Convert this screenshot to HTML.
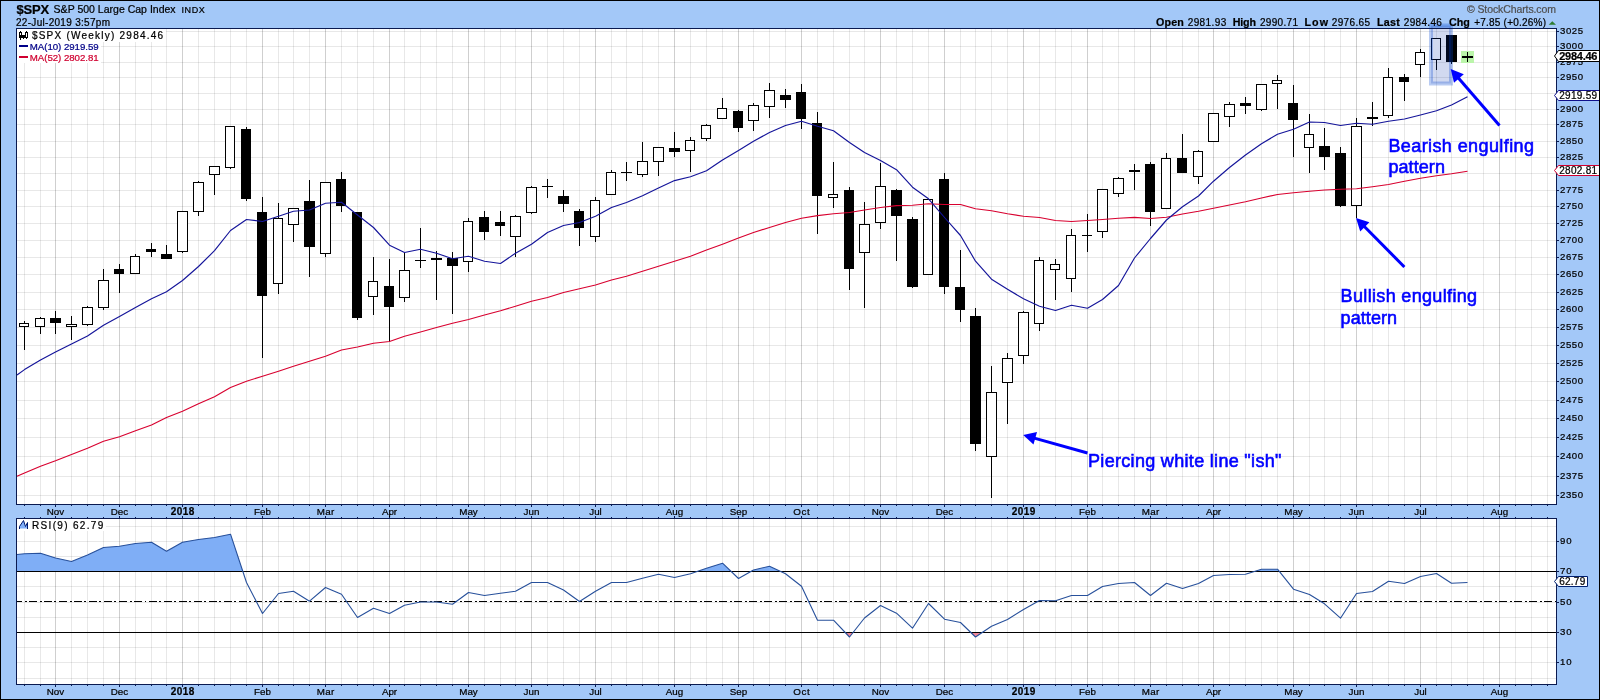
<!DOCTYPE html>
<html><head><meta charset="utf-8"><title>$SPX</title>
<style>html,body{margin:0;padding:0;background:#A3C8F8;}svg{display:block;will-change:transform;}text{font-family:"Liberation Sans",sans-serif;}</style>
</head><body>
<svg width="1600" height="700" viewBox="0 0 1600 700">
<rect x="0" y="0" width="1600" height="700" fill="#A3C8F8"/>
<rect x="16" y="28" width="1541" height="477" fill="#fff"/>
<g shape-rendering="crispEdges" stroke-width="1">
<rect x="16" y="518" width="1541" height="167" fill="#fff"/>
<line x1="24.5" x2="24.5" y1="29" y2="504" stroke="rgba(0,0,0,0.092)"/>
<line x1="24.5" x2="24.5" y1="519" y2="684" stroke="rgba(0,0,0,0.092)"/>
<line x1="40.5" x2="40.5" y1="29" y2="504" stroke="rgba(0,0,0,0.092)"/>
<line x1="40.5" x2="40.5" y1="519" y2="684" stroke="rgba(0,0,0,0.092)"/>
<line x1="55.5" x2="55.5" y1="29" y2="504" stroke="rgba(0,0,0,0.19)"/>
<line x1="55.5" x2="55.5" y1="519" y2="684" stroke="rgba(0,0,0,0.19)"/>
<line x1="71.5" x2="71.5" y1="29" y2="504" stroke="rgba(0,0,0,0.092)"/>
<line x1="71.5" x2="71.5" y1="519" y2="684" stroke="rgba(0,0,0,0.092)"/>
<line x1="87.5" x2="87.5" y1="29" y2="504" stroke="rgba(0,0,0,0.092)"/>
<line x1="87.5" x2="87.5" y1="519" y2="684" stroke="rgba(0,0,0,0.092)"/>
<line x1="103.5" x2="103.5" y1="29" y2="504" stroke="rgba(0,0,0,0.092)"/>
<line x1="103.5" x2="103.5" y1="519" y2="684" stroke="rgba(0,0,0,0.092)"/>
<line x1="119.5" x2="119.5" y1="29" y2="504" stroke="rgba(0,0,0,0.19)"/>
<line x1="119.5" x2="119.5" y1="519" y2="684" stroke="rgba(0,0,0,0.19)"/>
<line x1="135.5" x2="135.5" y1="29" y2="504" stroke="rgba(0,0,0,0.092)"/>
<line x1="135.5" x2="135.5" y1="519" y2="684" stroke="rgba(0,0,0,0.092)"/>
<line x1="151.5" x2="151.5" y1="29" y2="504" stroke="rgba(0,0,0,0.092)"/>
<line x1="151.5" x2="151.5" y1="519" y2="684" stroke="rgba(0,0,0,0.092)"/>
<line x1="166.5" x2="166.5" y1="29" y2="504" stroke="rgba(0,0,0,0.092)"/>
<line x1="166.5" x2="166.5" y1="519" y2="684" stroke="rgba(0,0,0,0.092)"/>
<line x1="182.5" x2="182.5" y1="29" y2="504" stroke="rgba(0,0,0,0.19)"/>
<line x1="182.5" x2="182.5" y1="519" y2="684" stroke="rgba(0,0,0,0.19)"/>
<line x1="198.5" x2="198.5" y1="29" y2="504" stroke="rgba(0,0,0,0.092)"/>
<line x1="198.5" x2="198.5" y1="519" y2="684" stroke="rgba(0,0,0,0.092)"/>
<line x1="214.5" x2="214.5" y1="29" y2="504" stroke="rgba(0,0,0,0.092)"/>
<line x1="214.5" x2="214.5" y1="519" y2="684" stroke="rgba(0,0,0,0.092)"/>
<line x1="230.5" x2="230.5" y1="29" y2="504" stroke="rgba(0,0,0,0.092)"/>
<line x1="230.5" x2="230.5" y1="519" y2="684" stroke="rgba(0,0,0,0.092)"/>
<line x1="246.5" x2="246.5" y1="29" y2="504" stroke="rgba(0,0,0,0.092)"/>
<line x1="246.5" x2="246.5" y1="519" y2="684" stroke="rgba(0,0,0,0.092)"/>
<line x1="262.5" x2="262.5" y1="29" y2="504" stroke="rgba(0,0,0,0.19)"/>
<line x1="262.5" x2="262.5" y1="519" y2="684" stroke="rgba(0,0,0,0.19)"/>
<line x1="278.5" x2="278.5" y1="29" y2="504" stroke="rgba(0,0,0,0.092)"/>
<line x1="278.5" x2="278.5" y1="519" y2="684" stroke="rgba(0,0,0,0.092)"/>
<line x1="293.5" x2="293.5" y1="29" y2="504" stroke="rgba(0,0,0,0.092)"/>
<line x1="293.5" x2="293.5" y1="519" y2="684" stroke="rgba(0,0,0,0.092)"/>
<line x1="309.5" x2="309.5" y1="29" y2="504" stroke="rgba(0,0,0,0.092)"/>
<line x1="309.5" x2="309.5" y1="519" y2="684" stroke="rgba(0,0,0,0.092)"/>
<line x1="325.5" x2="325.5" y1="29" y2="504" stroke="rgba(0,0,0,0.19)"/>
<line x1="325.5" x2="325.5" y1="519" y2="684" stroke="rgba(0,0,0,0.19)"/>
<line x1="341.5" x2="341.5" y1="29" y2="504" stroke="rgba(0,0,0,0.092)"/>
<line x1="341.5" x2="341.5" y1="519" y2="684" stroke="rgba(0,0,0,0.092)"/>
<line x1="357.5" x2="357.5" y1="29" y2="504" stroke="rgba(0,0,0,0.092)"/>
<line x1="357.5" x2="357.5" y1="519" y2="684" stroke="rgba(0,0,0,0.092)"/>
<line x1="373.5" x2="373.5" y1="29" y2="504" stroke="rgba(0,0,0,0.092)"/>
<line x1="373.5" x2="373.5" y1="519" y2="684" stroke="rgba(0,0,0,0.092)"/>
<line x1="389.5" x2="389.5" y1="29" y2="504" stroke="rgba(0,0,0,0.19)"/>
<line x1="389.5" x2="389.5" y1="519" y2="684" stroke="rgba(0,0,0,0.19)"/>
<line x1="404.5" x2="404.5" y1="29" y2="504" stroke="rgba(0,0,0,0.092)"/>
<line x1="404.5" x2="404.5" y1="519" y2="684" stroke="rgba(0,0,0,0.092)"/>
<line x1="420.5" x2="420.5" y1="29" y2="504" stroke="rgba(0,0,0,0.092)"/>
<line x1="420.5" x2="420.5" y1="519" y2="684" stroke="rgba(0,0,0,0.092)"/>
<line x1="436.5" x2="436.5" y1="29" y2="504" stroke="rgba(0,0,0,0.092)"/>
<line x1="436.5" x2="436.5" y1="519" y2="684" stroke="rgba(0,0,0,0.092)"/>
<line x1="452.5" x2="452.5" y1="29" y2="504" stroke="rgba(0,0,0,0.092)"/>
<line x1="452.5" x2="452.5" y1="519" y2="684" stroke="rgba(0,0,0,0.092)"/>
<line x1="468.5" x2="468.5" y1="29" y2="504" stroke="rgba(0,0,0,0.19)"/>
<line x1="468.5" x2="468.5" y1="519" y2="684" stroke="rgba(0,0,0,0.19)"/>
<line x1="484.5" x2="484.5" y1="29" y2="504" stroke="rgba(0,0,0,0.092)"/>
<line x1="484.5" x2="484.5" y1="519" y2="684" stroke="rgba(0,0,0,0.092)"/>
<line x1="500.5" x2="500.5" y1="29" y2="504" stroke="rgba(0,0,0,0.092)"/>
<line x1="500.5" x2="500.5" y1="519" y2="684" stroke="rgba(0,0,0,0.092)"/>
<line x1="515.5" x2="515.5" y1="29" y2="504" stroke="rgba(0,0,0,0.092)"/>
<line x1="515.5" x2="515.5" y1="519" y2="684" stroke="rgba(0,0,0,0.092)"/>
<line x1="531.5" x2="531.5" y1="29" y2="504" stroke="rgba(0,0,0,0.19)"/>
<line x1="531.5" x2="531.5" y1="519" y2="684" stroke="rgba(0,0,0,0.19)"/>
<line x1="547.5" x2="547.5" y1="29" y2="504" stroke="rgba(0,0,0,0.092)"/>
<line x1="547.5" x2="547.5" y1="519" y2="684" stroke="rgba(0,0,0,0.092)"/>
<line x1="563.5" x2="563.5" y1="29" y2="504" stroke="rgba(0,0,0,0.092)"/>
<line x1="563.5" x2="563.5" y1="519" y2="684" stroke="rgba(0,0,0,0.092)"/>
<line x1="579.5" x2="579.5" y1="29" y2="504" stroke="rgba(0,0,0,0.092)"/>
<line x1="579.5" x2="579.5" y1="519" y2="684" stroke="rgba(0,0,0,0.092)"/>
<line x1="595.5" x2="595.5" y1="29" y2="504" stroke="rgba(0,0,0,0.19)"/>
<line x1="595.5" x2="595.5" y1="519" y2="684" stroke="rgba(0,0,0,0.19)"/>
<line x1="611.5" x2="611.5" y1="29" y2="504" stroke="rgba(0,0,0,0.092)"/>
<line x1="611.5" x2="611.5" y1="519" y2="684" stroke="rgba(0,0,0,0.092)"/>
<line x1="626.5" x2="626.5" y1="29" y2="504" stroke="rgba(0,0,0,0.092)"/>
<line x1="626.5" x2="626.5" y1="519" y2="684" stroke="rgba(0,0,0,0.092)"/>
<line x1="642.5" x2="642.5" y1="29" y2="504" stroke="rgba(0,0,0,0.092)"/>
<line x1="642.5" x2="642.5" y1="519" y2="684" stroke="rgba(0,0,0,0.092)"/>
<line x1="658.5" x2="658.5" y1="29" y2="504" stroke="rgba(0,0,0,0.092)"/>
<line x1="658.5" x2="658.5" y1="519" y2="684" stroke="rgba(0,0,0,0.092)"/>
<line x1="674.5" x2="674.5" y1="29" y2="504" stroke="rgba(0,0,0,0.19)"/>
<line x1="674.5" x2="674.5" y1="519" y2="684" stroke="rgba(0,0,0,0.19)"/>
<line x1="690.5" x2="690.5" y1="29" y2="504" stroke="rgba(0,0,0,0.092)"/>
<line x1="690.5" x2="690.5" y1="519" y2="684" stroke="rgba(0,0,0,0.092)"/>
<line x1="706.5" x2="706.5" y1="29" y2="504" stroke="rgba(0,0,0,0.092)"/>
<line x1="706.5" x2="706.5" y1="519" y2="684" stroke="rgba(0,0,0,0.092)"/>
<line x1="722.5" x2="722.5" y1="29" y2="504" stroke="rgba(0,0,0,0.092)"/>
<line x1="722.5" x2="722.5" y1="519" y2="684" stroke="rgba(0,0,0,0.092)"/>
<line x1="738.5" x2="738.5" y1="29" y2="504" stroke="rgba(0,0,0,0.19)"/>
<line x1="738.5" x2="738.5" y1="519" y2="684" stroke="rgba(0,0,0,0.19)"/>
<line x1="753.5" x2="753.5" y1="29" y2="504" stroke="rgba(0,0,0,0.092)"/>
<line x1="753.5" x2="753.5" y1="519" y2="684" stroke="rgba(0,0,0,0.092)"/>
<line x1="769.5" x2="769.5" y1="29" y2="504" stroke="rgba(0,0,0,0.092)"/>
<line x1="769.5" x2="769.5" y1="519" y2="684" stroke="rgba(0,0,0,0.092)"/>
<line x1="785.5" x2="785.5" y1="29" y2="504" stroke="rgba(0,0,0,0.092)"/>
<line x1="785.5" x2="785.5" y1="519" y2="684" stroke="rgba(0,0,0,0.092)"/>
<line x1="801.5" x2="801.5" y1="29" y2="504" stroke="rgba(0,0,0,0.19)"/>
<line x1="801.5" x2="801.5" y1="519" y2="684" stroke="rgba(0,0,0,0.19)"/>
<line x1="817.5" x2="817.5" y1="29" y2="504" stroke="rgba(0,0,0,0.092)"/>
<line x1="817.5" x2="817.5" y1="519" y2="684" stroke="rgba(0,0,0,0.092)"/>
<line x1="833.5" x2="833.5" y1="29" y2="504" stroke="rgba(0,0,0,0.092)"/>
<line x1="833.5" x2="833.5" y1="519" y2="684" stroke="rgba(0,0,0,0.092)"/>
<line x1="849.5" x2="849.5" y1="29" y2="504" stroke="rgba(0,0,0,0.092)"/>
<line x1="849.5" x2="849.5" y1="519" y2="684" stroke="rgba(0,0,0,0.092)"/>
<line x1="864.5" x2="864.5" y1="29" y2="504" stroke="rgba(0,0,0,0.092)"/>
<line x1="864.5" x2="864.5" y1="519" y2="684" stroke="rgba(0,0,0,0.092)"/>
<line x1="880.5" x2="880.5" y1="29" y2="504" stroke="rgba(0,0,0,0.19)"/>
<line x1="880.5" x2="880.5" y1="519" y2="684" stroke="rgba(0,0,0,0.19)"/>
<line x1="896.5" x2="896.5" y1="29" y2="504" stroke="rgba(0,0,0,0.092)"/>
<line x1="896.5" x2="896.5" y1="519" y2="684" stroke="rgba(0,0,0,0.092)"/>
<line x1="912.5" x2="912.5" y1="29" y2="504" stroke="rgba(0,0,0,0.092)"/>
<line x1="912.5" x2="912.5" y1="519" y2="684" stroke="rgba(0,0,0,0.092)"/>
<line x1="928.5" x2="928.5" y1="29" y2="504" stroke="rgba(0,0,0,0.092)"/>
<line x1="928.5" x2="928.5" y1="519" y2="684" stroke="rgba(0,0,0,0.092)"/>
<line x1="944.5" x2="944.5" y1="29" y2="504" stroke="rgba(0,0,0,0.19)"/>
<line x1="944.5" x2="944.5" y1="519" y2="684" stroke="rgba(0,0,0,0.19)"/>
<line x1="960.5" x2="960.5" y1="29" y2="504" stroke="rgba(0,0,0,0.092)"/>
<line x1="960.5" x2="960.5" y1="519" y2="684" stroke="rgba(0,0,0,0.092)"/>
<line x1="975.5" x2="975.5" y1="29" y2="504" stroke="rgba(0,0,0,0.092)"/>
<line x1="975.5" x2="975.5" y1="519" y2="684" stroke="rgba(0,0,0,0.092)"/>
<line x1="991.5" x2="991.5" y1="29" y2="504" stroke="rgba(0,0,0,0.092)"/>
<line x1="991.5" x2="991.5" y1="519" y2="684" stroke="rgba(0,0,0,0.092)"/>
<line x1="1007.5" x2="1007.5" y1="29" y2="504" stroke="rgba(0,0,0,0.092)"/>
<line x1="1007.5" x2="1007.5" y1="519" y2="684" stroke="rgba(0,0,0,0.092)"/>
<line x1="1023.5" x2="1023.5" y1="29" y2="504" stroke="rgba(0,0,0,0.19)"/>
<line x1="1023.5" x2="1023.5" y1="519" y2="684" stroke="rgba(0,0,0,0.19)"/>
<line x1="1039.5" x2="1039.5" y1="29" y2="504" stroke="rgba(0,0,0,0.092)"/>
<line x1="1039.5" x2="1039.5" y1="519" y2="684" stroke="rgba(0,0,0,0.092)"/>
<line x1="1055.5" x2="1055.5" y1="29" y2="504" stroke="rgba(0,0,0,0.092)"/>
<line x1="1055.5" x2="1055.5" y1="519" y2="684" stroke="rgba(0,0,0,0.092)"/>
<line x1="1071.5" x2="1071.5" y1="29" y2="504" stroke="rgba(0,0,0,0.092)"/>
<line x1="1071.5" x2="1071.5" y1="519" y2="684" stroke="rgba(0,0,0,0.092)"/>
<line x1="1087.5" x2="1087.5" y1="29" y2="504" stroke="rgba(0,0,0,0.19)"/>
<line x1="1087.5" x2="1087.5" y1="519" y2="684" stroke="rgba(0,0,0,0.19)"/>
<line x1="1102.5" x2="1102.5" y1="29" y2="504" stroke="rgba(0,0,0,0.092)"/>
<line x1="1102.5" x2="1102.5" y1="519" y2="684" stroke="rgba(0,0,0,0.092)"/>
<line x1="1118.5" x2="1118.5" y1="29" y2="504" stroke="rgba(0,0,0,0.092)"/>
<line x1="1118.5" x2="1118.5" y1="519" y2="684" stroke="rgba(0,0,0,0.092)"/>
<line x1="1134.5" x2="1134.5" y1="29" y2="504" stroke="rgba(0,0,0,0.092)"/>
<line x1="1134.5" x2="1134.5" y1="519" y2="684" stroke="rgba(0,0,0,0.092)"/>
<line x1="1150.5" x2="1150.5" y1="29" y2="504" stroke="rgba(0,0,0,0.19)"/>
<line x1="1150.5" x2="1150.5" y1="519" y2="684" stroke="rgba(0,0,0,0.19)"/>
<line x1="1166.5" x2="1166.5" y1="29" y2="504" stroke="rgba(0,0,0,0.092)"/>
<line x1="1166.5" x2="1166.5" y1="519" y2="684" stroke="rgba(0,0,0,0.092)"/>
<line x1="1182.5" x2="1182.5" y1="29" y2="504" stroke="rgba(0,0,0,0.092)"/>
<line x1="1182.5" x2="1182.5" y1="519" y2="684" stroke="rgba(0,0,0,0.092)"/>
<line x1="1198.5" x2="1198.5" y1="29" y2="504" stroke="rgba(0,0,0,0.092)"/>
<line x1="1198.5" x2="1198.5" y1="519" y2="684" stroke="rgba(0,0,0,0.092)"/>
<line x1="1213.5" x2="1213.5" y1="29" y2="504" stroke="rgba(0,0,0,0.19)"/>
<line x1="1213.5" x2="1213.5" y1="519" y2="684" stroke="rgba(0,0,0,0.19)"/>
<line x1="1229.5" x2="1229.5" y1="29" y2="504" stroke="rgba(0,0,0,0.092)"/>
<line x1="1229.5" x2="1229.5" y1="519" y2="684" stroke="rgba(0,0,0,0.092)"/>
<line x1="1245.5" x2="1245.5" y1="29" y2="504" stroke="rgba(0,0,0,0.092)"/>
<line x1="1245.5" x2="1245.5" y1="519" y2="684" stroke="rgba(0,0,0,0.092)"/>
<line x1="1261.5" x2="1261.5" y1="29" y2="504" stroke="rgba(0,0,0,0.092)"/>
<line x1="1261.5" x2="1261.5" y1="519" y2="684" stroke="rgba(0,0,0,0.092)"/>
<line x1="1277.5" x2="1277.5" y1="29" y2="504" stroke="rgba(0,0,0,0.092)"/>
<line x1="1277.5" x2="1277.5" y1="519" y2="684" stroke="rgba(0,0,0,0.092)"/>
<line x1="1293.5" x2="1293.5" y1="29" y2="504" stroke="rgba(0,0,0,0.19)"/>
<line x1="1293.5" x2="1293.5" y1="519" y2="684" stroke="rgba(0,0,0,0.19)"/>
<line x1="1309.5" x2="1309.5" y1="29" y2="504" stroke="rgba(0,0,0,0.092)"/>
<line x1="1309.5" x2="1309.5" y1="519" y2="684" stroke="rgba(0,0,0,0.092)"/>
<line x1="1324.5" x2="1324.5" y1="29" y2="504" stroke="rgba(0,0,0,0.092)"/>
<line x1="1324.5" x2="1324.5" y1="519" y2="684" stroke="rgba(0,0,0,0.092)"/>
<line x1="1340.5" x2="1340.5" y1="29" y2="504" stroke="rgba(0,0,0,0.092)"/>
<line x1="1340.5" x2="1340.5" y1="519" y2="684" stroke="rgba(0,0,0,0.092)"/>
<line x1="1356.5" x2="1356.5" y1="29" y2="504" stroke="rgba(0,0,0,0.19)"/>
<line x1="1356.5" x2="1356.5" y1="519" y2="684" stroke="rgba(0,0,0,0.19)"/>
<line x1="1372.5" x2="1372.5" y1="29" y2="504" stroke="rgba(0,0,0,0.092)"/>
<line x1="1372.5" x2="1372.5" y1="519" y2="684" stroke="rgba(0,0,0,0.092)"/>
<line x1="1388.5" x2="1388.5" y1="29" y2="504" stroke="rgba(0,0,0,0.092)"/>
<line x1="1388.5" x2="1388.5" y1="519" y2="684" stroke="rgba(0,0,0,0.092)"/>
<line x1="1404.5" x2="1404.5" y1="29" y2="504" stroke="rgba(0,0,0,0.092)"/>
<line x1="1404.5" x2="1404.5" y1="519" y2="684" stroke="rgba(0,0,0,0.092)"/>
<line x1="1420.5" x2="1420.5" y1="29" y2="504" stroke="rgba(0,0,0,0.19)"/>
<line x1="1420.5" x2="1420.5" y1="519" y2="684" stroke="rgba(0,0,0,0.19)"/>
<line x1="1436.5" x2="1436.5" y1="29" y2="504" stroke="rgba(0,0,0,0.092)"/>
<line x1="1436.5" x2="1436.5" y1="519" y2="684" stroke="rgba(0,0,0,0.092)"/>
<line x1="1451.5" x2="1451.5" y1="29" y2="504" stroke="rgba(0,0,0,0.092)"/>
<line x1="1451.5" x2="1451.5" y1="519" y2="684" stroke="rgba(0,0,0,0.092)"/>
<line x1="1467.5" x2="1467.5" y1="29" y2="504" stroke="rgba(0,0,0,0.092)"/>
<line x1="1467.5" x2="1467.5" y1="519" y2="684" stroke="rgba(0,0,0,0.092)"/>
<line x1="1483.5" x2="1483.5" y1="29" y2="504" stroke="rgba(0,0,0,0.092)"/>
<line x1="1483.5" x2="1483.5" y1="519" y2="684" stroke="rgba(0,0,0,0.092)"/>
<line x1="1499.5" x2="1499.5" y1="29" y2="504" stroke="rgba(0,0,0,0.19)"/>
<line x1="1499.5" x2="1499.5" y1="519" y2="684" stroke="rgba(0,0,0,0.19)"/>
<line x1="1515.5" x2="1515.5" y1="29" y2="504" stroke="rgba(0,0,0,0.092)"/>
<line x1="1515.5" x2="1515.5" y1="519" y2="684" stroke="rgba(0,0,0,0.092)"/>
<line x1="1531.5" x2="1531.5" y1="29" y2="504" stroke="rgba(0,0,0,0.092)"/>
<line x1="1531.5" x2="1531.5" y1="519" y2="684" stroke="rgba(0,0,0,0.092)"/>
<line x1="1547.5" x2="1547.5" y1="29" y2="504" stroke="rgba(0,0,0,0.092)"/>
<line x1="1547.5" x2="1547.5" y1="519" y2="684" stroke="rgba(0,0,0,0.092)"/>
<line x1="17" x2="1556" y1="495.5" y2="495.5" stroke="rgba(0,0,0,0.092)"/>
<line x1="17" x2="1556" y1="476.5" y2="476.5" stroke="rgba(0,0,0,0.092)"/>
<line x1="17" x2="1556" y1="456.5" y2="456.5" stroke="rgba(0,0,0,0.092)"/>
<line x1="17" x2="1556" y1="437.5" y2="437.5" stroke="rgba(0,0,0,0.092)"/>
<line x1="17" x2="1556" y1="418.5" y2="418.5" stroke="rgba(0,0,0,0.092)"/>
<line x1="17" x2="1556" y1="400.5" y2="400.5" stroke="rgba(0,0,0,0.092)"/>
<line x1="17" x2="1556" y1="381.5" y2="381.5" stroke="rgba(0,0,0,0.092)"/>
<line x1="17" x2="1556" y1="363.5" y2="363.5" stroke="rgba(0,0,0,0.092)"/>
<line x1="17" x2="1556" y1="345.5" y2="345.5" stroke="rgba(0,0,0,0.092)"/>
<line x1="17" x2="1556" y1="327.5" y2="327.5" stroke="rgba(0,0,0,0.092)"/>
<line x1="17" x2="1556" y1="309.5" y2="309.5" stroke="rgba(0,0,0,0.092)"/>
<line x1="17" x2="1556" y1="292.5" y2="292.5" stroke="rgba(0,0,0,0.092)"/>
<line x1="17" x2="1556" y1="274.5" y2="274.5" stroke="rgba(0,0,0,0.092)"/>
<line x1="17" x2="1556" y1="257.5" y2="257.5" stroke="rgba(0,0,0,0.092)"/>
<line x1="17" x2="1556" y1="240.5" y2="240.5" stroke="rgba(0,0,0,0.092)"/>
<line x1="17" x2="1556" y1="223.5" y2="223.5" stroke="rgba(0,0,0,0.092)"/>
<line x1="17" x2="1556" y1="206.5" y2="206.5" stroke="rgba(0,0,0,0.092)"/>
<line x1="17" x2="1556" y1="190.5" y2="190.5" stroke="rgba(0,0,0,0.092)"/>
<line x1="17" x2="1556" y1="173.5" y2="173.5" stroke="rgba(0,0,0,0.092)"/>
<line x1="17" x2="1556" y1="157.5" y2="157.5" stroke="rgba(0,0,0,0.092)"/>
<line x1="17" x2="1556" y1="141.5" y2="141.5" stroke="rgba(0,0,0,0.092)"/>
<line x1="17" x2="1556" y1="124.5" y2="124.5" stroke="rgba(0,0,0,0.092)"/>
<line x1="17" x2="1556" y1="109.5" y2="109.5" stroke="rgba(0,0,0,0.092)"/>
<line x1="17" x2="1556" y1="93.5" y2="93.5" stroke="rgba(0,0,0,0.092)"/>
<line x1="17" x2="1556" y1="77.5" y2="77.5" stroke="rgba(0,0,0,0.092)"/>
<line x1="17" x2="1556" y1="62.5" y2="62.5" stroke="rgba(0,0,0,0.092)"/>
<line x1="17" x2="1556" y1="46.5" y2="46.5" stroke="rgba(0,0,0,0.092)"/>
<line x1="17" x2="1556" y1="31.5" y2="31.5" stroke="rgba(0,0,0,0.092)"/>
<line x1="17" x2="1556" y1="678.5" y2="678.5" stroke="rgba(0,0,0,0.092)"/>
<line x1="17" x2="1556" y1="662.5" y2="662.5" stroke="rgba(0,0,0,0.092)"/>
<line x1="17" x2="1556" y1="647.5" y2="647.5" stroke="rgba(0,0,0,0.092)"/>
<line x1="17" x2="1556" y1="617.5" y2="617.5" stroke="rgba(0,0,0,0.092)"/>
<line x1="17" x2="1556" y1="602.5" y2="602.5" stroke="rgba(0,0,0,0.092)"/>
<line x1="17" x2="1556" y1="586.5" y2="586.5" stroke="rgba(0,0,0,0.092)"/>
<line x1="17" x2="1556" y1="556.5" y2="556.5" stroke="rgba(0,0,0,0.092)"/>
<line x1="17" x2="1556" y1="541.5" y2="541.5" stroke="rgba(0,0,0,0.092)"/>
<line x1="17" x2="1556" y1="526.5" y2="526.5" stroke="rgba(0,0,0,0.092)"/>
</g>
<rect x="17" y="29" width="149" height="13" fill="#fff"/>
<rect x="17" y="42" width="84" height="21" fill="#fff"/>
<rect x="17" y="519" width="89" height="12" fill="#fff"/>
<g shape-rendering="crispEdges">
<rect x="24" y="321" width="1" height="29" fill="#000"/>
<rect x="19" y="323" width="10" height="4" fill="#000"/>
<rect x="20" y="324" width="8" height="2" fill="#fff"/>
<rect x="40" y="317" width="1" height="17" fill="#000"/>
<rect x="35" y="318" width="10" height="9" fill="#000"/>
<rect x="36" y="319" width="8" height="7" fill="#fff"/>
<rect x="55" y="311" width="1" height="23" fill="#000"/>
<rect x="50" y="318" width="11" height="5" fill="#000"/>
<rect x="71" y="316" width="1" height="24" fill="#000"/>
<rect x="66" y="324" width="11" height="3" fill="#000"/>
<rect x="67" y="325" width="9" height="1" fill="#fff"/>
<rect x="87" y="306" width="1" height="20" fill="#000"/>
<rect x="82" y="307" width="11" height="18" fill="#000"/>
<rect x="83" y="308" width="9" height="16" fill="#fff"/>
<rect x="103" y="269" width="1" height="41" fill="#000"/>
<rect x="98" y="280" width="11" height="28" fill="#000"/>
<rect x="99" y="281" width="9" height="26" fill="#fff"/>
<rect x="119" y="264" width="1" height="29" fill="#000"/>
<rect x="114" y="269" width="10" height="5" fill="#000"/>
<rect x="135" y="254" width="1" height="19" fill="#000"/>
<rect x="130" y="256" width="10" height="18" fill="#000"/>
<rect x="131" y="257" width="8" height="16" fill="#fff"/>
<rect x="151" y="243" width="1" height="14" fill="#000"/>
<rect x="146" y="249" width="10" height="3" fill="#000"/>
<rect x="166" y="245" width="1" height="14" fill="#000"/>
<rect x="161" y="254" width="11" height="5" fill="#000"/>
<rect x="182" y="211" width="1" height="42" fill="#000"/>
<rect x="177" y="211" width="11" height="41" fill="#000"/>
<rect x="178" y="212" width="9" height="39" fill="#fff"/>
<rect x="198" y="181" width="1" height="35" fill="#000"/>
<rect x="193" y="182" width="11" height="30" fill="#000"/>
<rect x="194" y="183" width="9" height="28" fill="#fff"/>
<rect x="214" y="166" width="1" height="29" fill="#000"/>
<rect x="209" y="166" width="11" height="9" fill="#000"/>
<rect x="210" y="167" width="9" height="7" fill="#fff"/>
<rect x="230" y="126" width="1" height="43" fill="#000"/>
<rect x="225" y="126" width="10" height="42" fill="#000"/>
<rect x="226" y="127" width="8" height="40" fill="#fff"/>
<rect x="246" y="127" width="1" height="74" fill="#000"/>
<rect x="241" y="129" width="10" height="70" fill="#000"/>
<rect x="262" y="197" width="1" height="161" fill="#000"/>
<rect x="257" y="212" width="10" height="84" fill="#000"/>
<rect x="278" y="203" width="1" height="91" fill="#000"/>
<rect x="273" y="218" width="10" height="66" fill="#000"/>
<rect x="274" y="219" width="8" height="64" fill="#fff"/>
<rect x="293" y="208" width="1" height="34" fill="#000"/>
<rect x="288" y="208" width="11" height="17" fill="#000"/>
<rect x="289" y="209" width="9" height="15" fill="#fff"/>
<rect x="309" y="180" width="1" height="97" fill="#000"/>
<rect x="304" y="201" width="11" height="46" fill="#000"/>
<rect x="325" y="182" width="1" height="75" fill="#000"/>
<rect x="320" y="182" width="11" height="72" fill="#000"/>
<rect x="321" y="183" width="9" height="70" fill="#fff"/>
<rect x="341" y="172" width="1" height="40" fill="#000"/>
<rect x="336" y="179" width="10" height="27" fill="#000"/>
<rect x="357" y="212" width="1" height="108" fill="#000"/>
<rect x="352" y="212" width="10" height="106" fill="#000"/>
<rect x="373" y="257" width="1" height="58" fill="#000"/>
<rect x="368" y="281" width="10" height="16" fill="#000"/>
<rect x="369" y="282" width="8" height="14" fill="#fff"/>
<rect x="389" y="259" width="1" height="83" fill="#000"/>
<rect x="384" y="286" width="10" height="21" fill="#000"/>
<rect x="404" y="252" width="1" height="50" fill="#000"/>
<rect x="399" y="270" width="11" height="28" fill="#000"/>
<rect x="400" y="271" width="9" height="26" fill="#fff"/>
<rect x="420" y="228" width="1" height="40" fill="#000"/>
<rect x="415" y="260" width="11" height="1" fill="#000"/>
<rect x="436" y="251" width="1" height="49" fill="#000"/>
<rect x="431" y="258" width="11" height="2" fill="#000"/>
<rect x="452" y="252" width="1" height="62" fill="#000"/>
<rect x="447" y="258" width="11" height="8" fill="#000"/>
<rect x="468" y="218" width="1" height="54" fill="#000"/>
<rect x="463" y="221" width="10" height="41" fill="#000"/>
<rect x="464" y="222" width="8" height="39" fill="#fff"/>
<rect x="484" y="211" width="1" height="29" fill="#000"/>
<rect x="479" y="217" width="10" height="15" fill="#000"/>
<rect x="500" y="211" width="1" height="25" fill="#000"/>
<rect x="495" y="222" width="10" height="4" fill="#000"/>
<rect x="515" y="215" width="1" height="42" fill="#000"/>
<rect x="510" y="216" width="11" height="21" fill="#000"/>
<rect x="511" y="217" width="9" height="19" fill="#fff"/>
<rect x="531" y="186" width="1" height="28" fill="#000"/>
<rect x="526" y="187" width="11" height="26" fill="#000"/>
<rect x="527" y="188" width="9" height="24" fill="#fff"/>
<rect x="547" y="179" width="1" height="19" fill="#000"/>
<rect x="542" y="186" width="11" height="1" fill="#000"/>
<rect x="563" y="190" width="1" height="22" fill="#000"/>
<rect x="558" y="196" width="11" height="8" fill="#000"/>
<rect x="579" y="209" width="1" height="37" fill="#000"/>
<rect x="574" y="211" width="10" height="17" fill="#000"/>
<rect x="595" y="197" width="1" height="45" fill="#000"/>
<rect x="590" y="200" width="10" height="37" fill="#000"/>
<rect x="591" y="201" width="8" height="35" fill="#fff"/>
<rect x="611" y="170" width="1" height="24" fill="#000"/>
<rect x="606" y="172" width="10" height="23" fill="#000"/>
<rect x="607" y="173" width="8" height="21" fill="#fff"/>
<rect x="626" y="162" width="1" height="19" fill="#000"/>
<rect x="621" y="172" width="11" height="1" fill="#000"/>
<rect x="642" y="142" width="1" height="35" fill="#000"/>
<rect x="637" y="161" width="11" height="14" fill="#000"/>
<rect x="638" y="162" width="9" height="12" fill="#fff"/>
<rect x="658" y="148" width="1" height="28" fill="#000"/>
<rect x="653" y="147" width="11" height="15" fill="#000"/>
<rect x="654" y="148" width="9" height="13" fill="#fff"/>
<rect x="674" y="132" width="1" height="25" fill="#000"/>
<rect x="669" y="148" width="11" height="4" fill="#000"/>
<rect x="690" y="137" width="1" height="35" fill="#000"/>
<rect x="685" y="140" width="10" height="11" fill="#000"/>
<rect x="686" y="141" width="8" height="9" fill="#fff"/>
<rect x="706" y="124" width="1" height="17" fill="#000"/>
<rect x="701" y="125" width="10" height="14" fill="#000"/>
<rect x="702" y="126" width="8" height="12" fill="#fff"/>
<rect x="722" y="98" width="1" height="20" fill="#000"/>
<rect x="717" y="108" width="10" height="11" fill="#000"/>
<rect x="718" y="109" width="8" height="9" fill="#fff"/>
<rect x="738" y="110" width="1" height="22" fill="#000"/>
<rect x="733" y="111" width="10" height="17" fill="#000"/>
<rect x="753" y="103" width="1" height="28" fill="#000"/>
<rect x="748" y="105" width="11" height="16" fill="#000"/>
<rect x="749" y="106" width="9" height="14" fill="#fff"/>
<rect x="769" y="83" width="1" height="35" fill="#000"/>
<rect x="764" y="90" width="11" height="17" fill="#000"/>
<rect x="765" y="91" width="9" height="15" fill="#fff"/>
<rect x="785" y="89" width="1" height="19" fill="#000"/>
<rect x="780" y="95" width="11" height="5" fill="#000"/>
<rect x="801" y="84" width="1" height="45" fill="#000"/>
<rect x="796" y="92" width="10" height="27" fill="#000"/>
<rect x="817" y="112" width="1" height="122" fill="#000"/>
<rect x="812" y="123" width="10" height="73" fill="#000"/>
<rect x="833" y="162" width="1" height="46" fill="#000"/>
<rect x="828" y="194" width="10" height="4" fill="#000"/>
<rect x="829" y="195" width="8" height="2" fill="#fff"/>
<rect x="849" y="187" width="1" height="103" fill="#000"/>
<rect x="844" y="190" width="10" height="79" fill="#000"/>
<rect x="864" y="202" width="1" height="106" fill="#000"/>
<rect x="859" y="224" width="11" height="29" fill="#000"/>
<rect x="860" y="225" width="9" height="27" fill="#fff"/>
<rect x="880" y="163" width="1" height="66" fill="#000"/>
<rect x="875" y="186" width="11" height="37" fill="#000"/>
<rect x="876" y="187" width="9" height="35" fill="#fff"/>
<rect x="896" y="189" width="1" height="72" fill="#000"/>
<rect x="891" y="190" width="11" height="26" fill="#000"/>
<rect x="912" y="217" width="1" height="71" fill="#000"/>
<rect x="907" y="219" width="11" height="68" fill="#000"/>
<rect x="928" y="200" width="1" height="74" fill="#000"/>
<rect x="923" y="199" width="10" height="76" fill="#000"/>
<rect x="924" y="200" width="8" height="74" fill="#fff"/>
<rect x="944" y="173" width="1" height="121" fill="#000"/>
<rect x="939" y="179" width="10" height="108" fill="#000"/>
<rect x="960" y="250" width="1" height="72" fill="#000"/>
<rect x="955" y="287" width="10" height="23" fill="#000"/>
<rect x="975" y="308" width="1" height="143" fill="#000"/>
<rect x="970" y="316" width="11" height="128" fill="#000"/>
<rect x="991" y="366" width="1" height="132" fill="#000"/>
<rect x="986" y="392" width="11" height="65" fill="#000"/>
<rect x="987" y="393" width="9" height="63" fill="#fff"/>
<rect x="1007" y="353" width="1" height="71" fill="#000"/>
<rect x="1002" y="358" width="11" height="25" fill="#000"/>
<rect x="1003" y="359" width="9" height="23" fill="#fff"/>
<rect x="1023" y="311" width="1" height="53" fill="#000"/>
<rect x="1018" y="312" width="11" height="44" fill="#000"/>
<rect x="1019" y="313" width="9" height="42" fill="#fff"/>
<rect x="1039" y="257" width="1" height="74" fill="#000"/>
<rect x="1034" y="260" width="10" height="64" fill="#000"/>
<rect x="1035" y="261" width="8" height="62" fill="#fff"/>
<rect x="1055" y="259" width="1" height="41" fill="#000"/>
<rect x="1050" y="264" width="10" height="6" fill="#000"/>
<rect x="1051" y="265" width="8" height="4" fill="#fff"/>
<rect x="1071" y="229" width="1" height="63" fill="#000"/>
<rect x="1066" y="235" width="10" height="44" fill="#000"/>
<rect x="1067" y="236" width="8" height="42" fill="#fff"/>
<rect x="1087" y="214" width="1" height="38" fill="#000"/>
<rect x="1082" y="235" width="10" height="1" fill="#000"/>
<rect x="1102" y="189" width="1" height="49" fill="#000"/>
<rect x="1097" y="189" width="11" height="43" fill="#000"/>
<rect x="1098" y="190" width="9" height="41" fill="#fff"/>
<rect x="1118" y="177" width="1" height="20" fill="#000"/>
<rect x="1113" y="178" width="11" height="16" fill="#000"/>
<rect x="1114" y="179" width="9" height="14" fill="#fff"/>
<rect x="1134" y="164" width="1" height="26" fill="#000"/>
<rect x="1129" y="170" width="11" height="2" fill="#000"/>
<rect x="1150" y="162" width="1" height="64" fill="#000"/>
<rect x="1145" y="164" width="10" height="48" fill="#000"/>
<rect x="1166" y="153" width="1" height="55" fill="#000"/>
<rect x="1161" y="158" width="10" height="51" fill="#000"/>
<rect x="1162" y="159" width="8" height="49" fill="#fff"/>
<rect x="1182" y="134" width="1" height="39" fill="#000"/>
<rect x="1177" y="158" width="10" height="15" fill="#000"/>
<rect x="1198" y="150" width="1" height="34" fill="#000"/>
<rect x="1193" y="151" width="10" height="26" fill="#000"/>
<rect x="1194" y="152" width="8" height="24" fill="#fff"/>
<rect x="1213" y="113" width="1" height="28" fill="#000"/>
<rect x="1208" y="113" width="11" height="29" fill="#000"/>
<rect x="1209" y="114" width="9" height="27" fill="#fff"/>
<rect x="1229" y="102" width="1" height="25" fill="#000"/>
<rect x="1224" y="104" width="11" height="13" fill="#000"/>
<rect x="1225" y="105" width="9" height="11" fill="#fff"/>
<rect x="1245" y="97" width="1" height="17" fill="#000"/>
<rect x="1240" y="103" width="11" height="3" fill="#000"/>
<rect x="1261" y="84" width="1" height="27" fill="#000"/>
<rect x="1256" y="84" width="11" height="26" fill="#000"/>
<rect x="1257" y="85" width="9" height="24" fill="#fff"/>
<rect x="1277" y="75" width="1" height="34" fill="#000"/>
<rect x="1272" y="80" width="10" height="4" fill="#000"/>
<rect x="1273" y="81" width="8" height="2" fill="#fff"/>
<rect x="1293" y="85" width="1" height="72" fill="#000"/>
<rect x="1288" y="103" width="10" height="17" fill="#000"/>
<rect x="1309" y="114" width="1" height="59" fill="#000"/>
<rect x="1304" y="134" width="10" height="14" fill="#000"/>
<rect x="1305" y="135" width="8" height="12" fill="#fff"/>
<rect x="1324" y="128" width="1" height="42" fill="#000"/>
<rect x="1319" y="146" width="11" height="11" fill="#000"/>
<rect x="1340" y="147" width="1" height="60" fill="#000"/>
<rect x="1335" y="153" width="11" height="53" fill="#000"/>
<rect x="1356" y="118" width="1" height="100" fill="#000"/>
<rect x="1351" y="126" width="11" height="80" fill="#000"/>
<rect x="1352" y="127" width="9" height="78" fill="#fff"/>
<rect x="1372" y="102" width="1" height="24" fill="#000"/>
<rect x="1367" y="117" width="11" height="2" fill="#000"/>
<rect x="1388" y="68" width="1" height="50" fill="#000"/>
<rect x="1383" y="77" width="10" height="39" fill="#000"/>
<rect x="1384" y="78" width="8" height="37" fill="#fff"/>
<rect x="1404" y="74" width="1" height="27" fill="#000"/>
<rect x="1399" y="77" width="10" height="5" fill="#000"/>
<rect x="1420" y="49" width="1" height="28" fill="#000"/>
<rect x="1415" y="52" width="10" height="13" fill="#000"/>
<rect x="1416" y="53" width="8" height="11" fill="#fff"/>
<rect x="1436" y="38" width="1" height="32" fill="#000"/>
<rect x="1431" y="38" width="10" height="22" fill="#000"/>
<rect x="1432" y="39" width="8" height="20" fill="#fff"/>
<rect x="1451" y="35" width="1" height="29" fill="#000"/>
<rect x="1446" y="35" width="11" height="27" fill="#000"/>
<rect x="1461" y="51" width="13" height="12" fill="#BBF5AA"/>
<rect x="1467" y="52" width="1" height="10" fill="#000"/>
<rect x="1462" y="56" width="11" height="2" fill="#000"/>
</g>
<polyline fill="none" stroke="#D8002F" stroke-width="1.15" stroke-linejoin="round" points="17.0,476.2 24.5,473.0 40.5,466.2 55.5,460.8 71.5,454.5 87.5,448.2 103.5,441.2 119.5,436.8 135.5,430.8 151.5,425.0 166.5,417.5 182.5,411.2 198.5,403.8 214.5,396.8 230.5,387.5 246.5,381.2 262.5,376.2 278.5,371.2 293.5,366.2 309.5,361.2 325.5,356.2 341.5,350.0 357.5,347.0 373.5,343.2 389.5,341.5 404.5,336.2 420.5,332.0 436.5,327.5 452.5,323.2 468.5,319.5 484.5,315.0 500.5,310.8 515.5,306.2 531.5,301.2 547.5,297.5 563.5,292.5 579.5,288.8 595.5,285.0 611.5,280.0 626.5,276.2 642.5,271.2 658.5,266.2 674.5,261.2 690.5,256.2 706.5,250.0 722.5,244.2 738.5,238.0 753.5,232.5 769.5,227.5 785.5,222.5 801.5,218.2 817.5,215.6 833.5,213.8 849.5,212.5 864.5,210.0 880.5,207.5 896.5,205.6 912.5,205.2 928.5,203.8 944.5,204.5 960.5,204.5 975.5,208.8 991.5,210.8 1007.5,213.8 1023.5,216.2 1039.5,217.5 1055.5,220.5 1071.5,221.5 1087.5,220.5 1102.5,219.5 1118.5,218.2 1134.5,217.4 1150.5,218.5 1166.5,217.2 1182.5,214.0 1198.5,211.2 1213.5,208.2 1229.5,205.0 1245.5,201.8 1261.5,198.0 1277.5,194.5 1293.5,192.7 1309.5,191.2 1324.5,190.0 1340.5,189.2 1356.5,188.8 1372.5,186.8 1388.5,184.5 1404.5,181.2 1420.5,178.2 1436.5,175.8 1451.5,173.8 1467.5,171.2" />
<polyline fill="none" stroke="#14149A" stroke-width="1.15" stroke-linejoin="round" points="17.0,375.0 24.5,369.6 40.5,360.0 55.5,352.0 71.5,344.0 87.5,336.0 103.5,325.3 119.5,316.4 135.5,307.5 151.5,298.7 166.5,291.7 182.5,280.5 198.5,266.5 214.5,250.7 230.5,230.5 246.5,219.5 262.5,221.5 278.5,216.2 293.5,211.2 309.5,210.0 325.5,203.2 341.5,202.2 357.5,215.0 373.5,227.5 389.5,245.2 404.5,252.5 420.5,249.2 436.5,253.2 452.5,258.8 468.5,256.2 484.5,261.2 500.5,263.5 515.5,253.2 531.5,244.2 547.5,232.5 563.5,225.5 579.5,222.5 595.5,216.2 611.5,207.5 626.5,202.5 642.5,195.8 658.5,188.0 674.5,180.6 690.5,176.8 706.5,170.8 722.5,160.0 738.5,150.5 753.5,141.2 769.5,132.5 785.5,125.5 801.5,121.2 817.5,126.2 833.5,130.8 849.5,142.5 864.5,152.5 880.5,160.5 896.5,169.7 912.5,187.2 928.5,198.8 944.5,217.5 960.5,235.5 975.5,261.2 991.5,279.2 1007.5,289.2 1023.5,298.8 1039.5,306.2 1055.5,310.5 1071.5,305.2 1087.5,308.2 1102.5,299.5 1118.5,285.5 1134.5,258.0 1150.5,238.5 1166.5,220.0 1182.5,206.8 1198.5,196.0 1213.5,181.2 1229.5,167.5 1245.5,155.0 1261.5,143.8 1277.5,134.2 1293.5,129.2 1309.5,122.0 1324.5,122.5 1340.5,125.5 1356.5,123.2 1372.5,124.2 1388.5,121.2 1404.5,119.0 1420.5,115.0 1436.5,110.8 1451.5,105.0 1467.5,96.8" />
<rect x="1431" y="25.5" width="20" height="58" fill="rgba(0,43,174,0.18)" stroke="rgba(0,70,210,0.28)" stroke-width="4"/>
<line x1="1499.5" y1="125.5" x2="1458.2" y2="77.7" stroke="#0000FF" stroke-width="3"/><polygon points="1450.7,69.0 1463.8,74.2 1454.0,82.7" fill="#0000FF"/>
<line x1="1404.4" y1="267.0" x2="1364.1" y2="226.2" stroke="#0000FF" stroke-width="3"/><polygon points="1356.0,218.0 1369.4,222.3 1360.2,231.5" fill="#0000FF"/>
<line x1="1087.5" y1="453.0" x2="1034.3" y2="438.1" stroke="#0000FF" stroke-width="3"/><polygon points="1023.2,435.0 1037.0,432.1 1033.5,444.6" fill="#0000FF"/>
<text x="1388.40" y="151.60" font-size="18" font-weight="normal" fill="#0000FF" textLength="145.6" lengthAdjust="spacing" stroke="#0000FF" stroke-width="0.6">Bearish engulfing</text>
<text x="1388.40" y="172.90" font-size="18" font-weight="normal" fill="#0000FF" textLength="56.5" lengthAdjust="spacing" stroke="#0000FF" stroke-width="0.6">pattern</text>
<text x="1340.60" y="302.10" font-size="18" font-weight="normal" fill="#0000FF" textLength="136.5" lengthAdjust="spacing" stroke="#0000FF" stroke-width="0.6">Bullish engulfing</text>
<text x="1340.60" y="323.50" font-size="18" font-weight="normal" fill="#0000FF" textLength="56.5" lengthAdjust="spacing" stroke="#0000FF" stroke-width="0.6">pattern</text>
<text x="1088.00" y="467.10" font-size="18" font-weight="normal" fill="#0000FF" textLength="193.4" lengthAdjust="spacing" stroke="#0000FF" stroke-width="0.6">Piercing white line "ish"</text>
<defs><clipPath id="c70"><rect x="17" y="519" width="1539" height="52.5"/></clipPath><clipPath id="c30"><rect x="17" y="632.5" width="1539" height="60"/></clipPath></defs>
<polygon points="17.0,554.5 24.5,553.8 40.5,553.2 55.5,558.0 71.5,561.5 87.5,555.0 103.5,547.5 119.5,546.2 135.5,543.5 151.5,542.2 166.5,551.2 182.5,542.2 198.5,539.5 214.5,537.5 230.5,534.2 246.5,582.5 262.5,613.5 278.5,593.5 293.5,591.2 309.5,601.2 325.5,587.5 341.5,594.2 357.5,617.5 373.5,608.2 389.5,613.5 404.5,605.2 420.5,602.0 436.5,602.0 452.5,604.2 468.5,592.5 484.5,595.5 500.5,593.2 515.5,591.2 531.5,582.5 547.5,582.5 563.5,590.0 579.5,601.5 595.5,591.2 611.5,582.5 626.5,582.5 642.5,578.2 658.5,574.2 674.5,577.5 690.5,573.8 706.5,568.2 722.5,563.2 738.5,578.5 753.5,570.0 769.5,566.2 785.5,573.8 801.5,586.2 817.5,620.2 833.5,620.2 849.5,637.0 864.5,618.0 880.5,605.5 896.5,613.2 912.5,628.2 928.5,603.5 944.5,619.2 960.5,622.5 975.5,637.0 991.5,626.2 1007.5,619.5 1023.5,609.5 1039.5,600.5 1055.5,600.8 1071.5,595.5 1087.5,595.5 1102.5,586.5 1118.5,583.5 1134.5,582.5 1150.5,595.5 1166.5,583.2 1182.5,588.5 1198.5,583.5 1213.5,575.5 1229.5,574.5 1245.5,574.2 1261.5,569.2 1277.5,569.2 1293.5,589.2 1309.5,594.5 1324.5,603.8 1340.5,618.2 1356.5,593.5 1372.5,591.5 1388.5,581.2 1404.5,583.5 1420.5,576.5 1436.5,573.5 1451.5,583.2 1467.5,582.5 1467.5,571.5 17,571.5" fill="#7FAEF6" clip-path="url(#c70)"/>
<polygon points="17.0,554.5 24.5,553.8 40.5,553.2 55.5,558.0 71.5,561.5 87.5,555.0 103.5,547.5 119.5,546.2 135.5,543.5 151.5,542.2 166.5,551.2 182.5,542.2 198.5,539.5 214.5,537.5 230.5,534.2 246.5,582.5 262.5,613.5 278.5,593.5 293.5,591.2 309.5,601.2 325.5,587.5 341.5,594.2 357.5,617.5 373.5,608.2 389.5,613.5 404.5,605.2 420.5,602.0 436.5,602.0 452.5,604.2 468.5,592.5 484.5,595.5 500.5,593.2 515.5,591.2 531.5,582.5 547.5,582.5 563.5,590.0 579.5,601.5 595.5,591.2 611.5,582.5 626.5,582.5 642.5,578.2 658.5,574.2 674.5,577.5 690.5,573.8 706.5,568.2 722.5,563.2 738.5,578.5 753.5,570.0 769.5,566.2 785.5,573.8 801.5,586.2 817.5,620.2 833.5,620.2 849.5,637.0 864.5,618.0 880.5,605.5 896.5,613.2 912.5,628.2 928.5,603.5 944.5,619.2 960.5,622.5 975.5,637.0 991.5,626.2 1007.5,619.5 1023.5,609.5 1039.5,600.5 1055.5,600.8 1071.5,595.5 1087.5,595.5 1102.5,586.5 1118.5,583.5 1134.5,582.5 1150.5,595.5 1166.5,583.2 1182.5,588.5 1198.5,583.5 1213.5,575.5 1229.5,574.5 1245.5,574.2 1261.5,569.2 1277.5,569.2 1293.5,589.2 1309.5,594.5 1324.5,603.8 1340.5,618.2 1356.5,593.5 1372.5,591.5 1388.5,581.2 1404.5,583.5 1420.5,576.5 1436.5,573.5 1451.5,583.2 1467.5,582.5 1467.5,632.5 17,632.5" fill="#F28A9A" clip-path="url(#c30)"/>
<g shape-rendering="crispEdges">
<line x1="17" x2="1556" y1="571.5" y2="571.5" stroke="#000" stroke-width="1"/>
<line x1="17" x2="1556" y1="632.5" y2="632.5" stroke="#000" stroke-width="1"/>
<line x1="17" x2="1556" y1="601.5" y2="601.5" stroke="#000" stroke-width="1" stroke-dasharray="8,2.5,2,2.5" stroke-dashoffset="3"/>
</g>
<polyline fill="none" stroke="#27509B" stroke-width="1.1" stroke-linejoin="round" points="17.0,554.5 24.5,553.8 40.5,553.2 55.5,558.0 71.5,561.5 87.5,555.0 103.5,547.5 119.5,546.2 135.5,543.5 151.5,542.2 166.5,551.2 182.5,542.2 198.5,539.5 214.5,537.5 230.5,534.2 246.5,582.5 262.5,613.5 278.5,593.5 293.5,591.2 309.5,601.2 325.5,587.5 341.5,594.2 357.5,617.5 373.5,608.2 389.5,613.5 404.5,605.2 420.5,602.0 436.5,602.0 452.5,604.2 468.5,592.5 484.5,595.5 500.5,593.2 515.5,591.2 531.5,582.5 547.5,582.5 563.5,590.0 579.5,601.5 595.5,591.2 611.5,582.5 626.5,582.5 642.5,578.2 658.5,574.2 674.5,577.5 690.5,573.8 706.5,568.2 722.5,563.2 738.5,578.5 753.5,570.0 769.5,566.2 785.5,573.8 801.5,586.2 817.5,620.2 833.5,620.2 849.5,637.0 864.5,618.0 880.5,605.5 896.5,613.2 912.5,628.2 928.5,603.5 944.5,619.2 960.5,622.5 975.5,637.0 991.5,626.2 1007.5,619.5 1023.5,609.5 1039.5,600.5 1055.5,600.8 1071.5,595.5 1087.5,595.5 1102.5,586.5 1118.5,583.5 1134.5,582.5 1150.5,595.5 1166.5,583.2 1182.5,588.5 1198.5,583.5 1213.5,575.5 1229.5,574.5 1245.5,574.2 1261.5,569.2 1277.5,569.2 1293.5,589.2 1309.5,594.5 1324.5,603.8 1340.5,618.2 1356.5,593.5 1372.5,591.5 1388.5,581.2 1404.5,583.5 1420.5,576.5 1436.5,573.5 1451.5,583.2 1467.5,582.5" />
<g shape-rendering="crispEdges" fill="none" stroke="#0A1A50" stroke-width="1">
<rect x="16.5" y="28.5" width="1540" height="476"/>
<rect x="16.5" y="518.5" width="1540" height="166"/>
<line x1="24.5" x2="24.5" y1="505" y2="506"/>
<line x1="24.5" x2="24.5" y1="517" y2="518"/>
<line x1="24.5" x2="24.5" y1="685" y2="686"/>
<line x1="40.5" x2="40.5" y1="505" y2="506"/>
<line x1="40.5" x2="40.5" y1="517" y2="518"/>
<line x1="40.5" x2="40.5" y1="685" y2="686"/>
<line x1="55.5" x2="55.5" y1="505" y2="507"/>
<line x1="55.5" x2="55.5" y1="516" y2="518"/>
<line x1="55.5" x2="55.5" y1="685" y2="687"/>
<line x1="71.5" x2="71.5" y1="505" y2="506"/>
<line x1="71.5" x2="71.5" y1="517" y2="518"/>
<line x1="71.5" x2="71.5" y1="685" y2="686"/>
<line x1="87.5" x2="87.5" y1="505" y2="506"/>
<line x1="87.5" x2="87.5" y1="517" y2="518"/>
<line x1="87.5" x2="87.5" y1="685" y2="686"/>
<line x1="103.5" x2="103.5" y1="505" y2="506"/>
<line x1="103.5" x2="103.5" y1="517" y2="518"/>
<line x1="103.5" x2="103.5" y1="685" y2="686"/>
<line x1="119.5" x2="119.5" y1="505" y2="507"/>
<line x1="119.5" x2="119.5" y1="516" y2="518"/>
<line x1="119.5" x2="119.5" y1="685" y2="687"/>
<line x1="135.5" x2="135.5" y1="505" y2="506"/>
<line x1="135.5" x2="135.5" y1="517" y2="518"/>
<line x1="135.5" x2="135.5" y1="685" y2="686"/>
<line x1="151.5" x2="151.5" y1="505" y2="506"/>
<line x1="151.5" x2="151.5" y1="517" y2="518"/>
<line x1="151.5" x2="151.5" y1="685" y2="686"/>
<line x1="166.5" x2="166.5" y1="505" y2="506"/>
<line x1="166.5" x2="166.5" y1="517" y2="518"/>
<line x1="166.5" x2="166.5" y1="685" y2="686"/>
<line x1="182.5" x2="182.5" y1="505" y2="507"/>
<line x1="182.5" x2="182.5" y1="516" y2="518"/>
<line x1="182.5" x2="182.5" y1="685" y2="687"/>
<line x1="198.5" x2="198.5" y1="505" y2="506"/>
<line x1="198.5" x2="198.5" y1="517" y2="518"/>
<line x1="198.5" x2="198.5" y1="685" y2="686"/>
<line x1="214.5" x2="214.5" y1="505" y2="506"/>
<line x1="214.5" x2="214.5" y1="517" y2="518"/>
<line x1="214.5" x2="214.5" y1="685" y2="686"/>
<line x1="230.5" x2="230.5" y1="505" y2="506"/>
<line x1="230.5" x2="230.5" y1="517" y2="518"/>
<line x1="230.5" x2="230.5" y1="685" y2="686"/>
<line x1="246.5" x2="246.5" y1="505" y2="506"/>
<line x1="246.5" x2="246.5" y1="517" y2="518"/>
<line x1="246.5" x2="246.5" y1="685" y2="686"/>
<line x1="262.5" x2="262.5" y1="505" y2="507"/>
<line x1="262.5" x2="262.5" y1="516" y2="518"/>
<line x1="262.5" x2="262.5" y1="685" y2="687"/>
<line x1="278.5" x2="278.5" y1="505" y2="506"/>
<line x1="278.5" x2="278.5" y1="517" y2="518"/>
<line x1="278.5" x2="278.5" y1="685" y2="686"/>
<line x1="293.5" x2="293.5" y1="505" y2="506"/>
<line x1="293.5" x2="293.5" y1="517" y2="518"/>
<line x1="293.5" x2="293.5" y1="685" y2="686"/>
<line x1="309.5" x2="309.5" y1="505" y2="506"/>
<line x1="309.5" x2="309.5" y1="517" y2="518"/>
<line x1="309.5" x2="309.5" y1="685" y2="686"/>
<line x1="325.5" x2="325.5" y1="505" y2="507"/>
<line x1="325.5" x2="325.5" y1="516" y2="518"/>
<line x1="325.5" x2="325.5" y1="685" y2="687"/>
<line x1="341.5" x2="341.5" y1="505" y2="506"/>
<line x1="341.5" x2="341.5" y1="517" y2="518"/>
<line x1="341.5" x2="341.5" y1="685" y2="686"/>
<line x1="357.5" x2="357.5" y1="505" y2="506"/>
<line x1="357.5" x2="357.5" y1="517" y2="518"/>
<line x1="357.5" x2="357.5" y1="685" y2="686"/>
<line x1="373.5" x2="373.5" y1="505" y2="506"/>
<line x1="373.5" x2="373.5" y1="517" y2="518"/>
<line x1="373.5" x2="373.5" y1="685" y2="686"/>
<line x1="389.5" x2="389.5" y1="505" y2="507"/>
<line x1="389.5" x2="389.5" y1="516" y2="518"/>
<line x1="389.5" x2="389.5" y1="685" y2="687"/>
<line x1="404.5" x2="404.5" y1="505" y2="506"/>
<line x1="404.5" x2="404.5" y1="517" y2="518"/>
<line x1="404.5" x2="404.5" y1="685" y2="686"/>
<line x1="420.5" x2="420.5" y1="505" y2="506"/>
<line x1="420.5" x2="420.5" y1="517" y2="518"/>
<line x1="420.5" x2="420.5" y1="685" y2="686"/>
<line x1="436.5" x2="436.5" y1="505" y2="506"/>
<line x1="436.5" x2="436.5" y1="517" y2="518"/>
<line x1="436.5" x2="436.5" y1="685" y2="686"/>
<line x1="452.5" x2="452.5" y1="505" y2="506"/>
<line x1="452.5" x2="452.5" y1="517" y2="518"/>
<line x1="452.5" x2="452.5" y1="685" y2="686"/>
<line x1="468.5" x2="468.5" y1="505" y2="507"/>
<line x1="468.5" x2="468.5" y1="516" y2="518"/>
<line x1="468.5" x2="468.5" y1="685" y2="687"/>
<line x1="484.5" x2="484.5" y1="505" y2="506"/>
<line x1="484.5" x2="484.5" y1="517" y2="518"/>
<line x1="484.5" x2="484.5" y1="685" y2="686"/>
<line x1="500.5" x2="500.5" y1="505" y2="506"/>
<line x1="500.5" x2="500.5" y1="517" y2="518"/>
<line x1="500.5" x2="500.5" y1="685" y2="686"/>
<line x1="515.5" x2="515.5" y1="505" y2="506"/>
<line x1="515.5" x2="515.5" y1="517" y2="518"/>
<line x1="515.5" x2="515.5" y1="685" y2="686"/>
<line x1="531.5" x2="531.5" y1="505" y2="507"/>
<line x1="531.5" x2="531.5" y1="516" y2="518"/>
<line x1="531.5" x2="531.5" y1="685" y2="687"/>
<line x1="547.5" x2="547.5" y1="505" y2="506"/>
<line x1="547.5" x2="547.5" y1="517" y2="518"/>
<line x1="547.5" x2="547.5" y1="685" y2="686"/>
<line x1="563.5" x2="563.5" y1="505" y2="506"/>
<line x1="563.5" x2="563.5" y1="517" y2="518"/>
<line x1="563.5" x2="563.5" y1="685" y2="686"/>
<line x1="579.5" x2="579.5" y1="505" y2="506"/>
<line x1="579.5" x2="579.5" y1="517" y2="518"/>
<line x1="579.5" x2="579.5" y1="685" y2="686"/>
<line x1="595.5" x2="595.5" y1="505" y2="507"/>
<line x1="595.5" x2="595.5" y1="516" y2="518"/>
<line x1="595.5" x2="595.5" y1="685" y2="687"/>
<line x1="611.5" x2="611.5" y1="505" y2="506"/>
<line x1="611.5" x2="611.5" y1="517" y2="518"/>
<line x1="611.5" x2="611.5" y1="685" y2="686"/>
<line x1="626.5" x2="626.5" y1="505" y2="506"/>
<line x1="626.5" x2="626.5" y1="517" y2="518"/>
<line x1="626.5" x2="626.5" y1="685" y2="686"/>
<line x1="642.5" x2="642.5" y1="505" y2="506"/>
<line x1="642.5" x2="642.5" y1="517" y2="518"/>
<line x1="642.5" x2="642.5" y1="685" y2="686"/>
<line x1="658.5" x2="658.5" y1="505" y2="506"/>
<line x1="658.5" x2="658.5" y1="517" y2="518"/>
<line x1="658.5" x2="658.5" y1="685" y2="686"/>
<line x1="674.5" x2="674.5" y1="505" y2="507"/>
<line x1="674.5" x2="674.5" y1="516" y2="518"/>
<line x1="674.5" x2="674.5" y1="685" y2="687"/>
<line x1="690.5" x2="690.5" y1="505" y2="506"/>
<line x1="690.5" x2="690.5" y1="517" y2="518"/>
<line x1="690.5" x2="690.5" y1="685" y2="686"/>
<line x1="706.5" x2="706.5" y1="505" y2="506"/>
<line x1="706.5" x2="706.5" y1="517" y2="518"/>
<line x1="706.5" x2="706.5" y1="685" y2="686"/>
<line x1="722.5" x2="722.5" y1="505" y2="506"/>
<line x1="722.5" x2="722.5" y1="517" y2="518"/>
<line x1="722.5" x2="722.5" y1="685" y2="686"/>
<line x1="738.5" x2="738.5" y1="505" y2="507"/>
<line x1="738.5" x2="738.5" y1="516" y2="518"/>
<line x1="738.5" x2="738.5" y1="685" y2="687"/>
<line x1="753.5" x2="753.5" y1="505" y2="506"/>
<line x1="753.5" x2="753.5" y1="517" y2="518"/>
<line x1="753.5" x2="753.5" y1="685" y2="686"/>
<line x1="769.5" x2="769.5" y1="505" y2="506"/>
<line x1="769.5" x2="769.5" y1="517" y2="518"/>
<line x1="769.5" x2="769.5" y1="685" y2="686"/>
<line x1="785.5" x2="785.5" y1="505" y2="506"/>
<line x1="785.5" x2="785.5" y1="517" y2="518"/>
<line x1="785.5" x2="785.5" y1="685" y2="686"/>
<line x1="801.5" x2="801.5" y1="505" y2="507"/>
<line x1="801.5" x2="801.5" y1="516" y2="518"/>
<line x1="801.5" x2="801.5" y1="685" y2="687"/>
<line x1="817.5" x2="817.5" y1="505" y2="506"/>
<line x1="817.5" x2="817.5" y1="517" y2="518"/>
<line x1="817.5" x2="817.5" y1="685" y2="686"/>
<line x1="833.5" x2="833.5" y1="505" y2="506"/>
<line x1="833.5" x2="833.5" y1="517" y2="518"/>
<line x1="833.5" x2="833.5" y1="685" y2="686"/>
<line x1="849.5" x2="849.5" y1="505" y2="506"/>
<line x1="849.5" x2="849.5" y1="517" y2="518"/>
<line x1="849.5" x2="849.5" y1="685" y2="686"/>
<line x1="864.5" x2="864.5" y1="505" y2="506"/>
<line x1="864.5" x2="864.5" y1="517" y2="518"/>
<line x1="864.5" x2="864.5" y1="685" y2="686"/>
<line x1="880.5" x2="880.5" y1="505" y2="507"/>
<line x1="880.5" x2="880.5" y1="516" y2="518"/>
<line x1="880.5" x2="880.5" y1="685" y2="687"/>
<line x1="896.5" x2="896.5" y1="505" y2="506"/>
<line x1="896.5" x2="896.5" y1="517" y2="518"/>
<line x1="896.5" x2="896.5" y1="685" y2="686"/>
<line x1="912.5" x2="912.5" y1="505" y2="506"/>
<line x1="912.5" x2="912.5" y1="517" y2="518"/>
<line x1="912.5" x2="912.5" y1="685" y2="686"/>
<line x1="928.5" x2="928.5" y1="505" y2="506"/>
<line x1="928.5" x2="928.5" y1="517" y2="518"/>
<line x1="928.5" x2="928.5" y1="685" y2="686"/>
<line x1="944.5" x2="944.5" y1="505" y2="507"/>
<line x1="944.5" x2="944.5" y1="516" y2="518"/>
<line x1="944.5" x2="944.5" y1="685" y2="687"/>
<line x1="960.5" x2="960.5" y1="505" y2="506"/>
<line x1="960.5" x2="960.5" y1="517" y2="518"/>
<line x1="960.5" x2="960.5" y1="685" y2="686"/>
<line x1="975.5" x2="975.5" y1="505" y2="506"/>
<line x1="975.5" x2="975.5" y1="517" y2="518"/>
<line x1="975.5" x2="975.5" y1="685" y2="686"/>
<line x1="991.5" x2="991.5" y1="505" y2="506"/>
<line x1="991.5" x2="991.5" y1="517" y2="518"/>
<line x1="991.5" x2="991.5" y1="685" y2="686"/>
<line x1="1007.5" x2="1007.5" y1="505" y2="506"/>
<line x1="1007.5" x2="1007.5" y1="517" y2="518"/>
<line x1="1007.5" x2="1007.5" y1="685" y2="686"/>
<line x1="1023.5" x2="1023.5" y1="505" y2="507"/>
<line x1="1023.5" x2="1023.5" y1="516" y2="518"/>
<line x1="1023.5" x2="1023.5" y1="685" y2="687"/>
<line x1="1039.5" x2="1039.5" y1="505" y2="506"/>
<line x1="1039.5" x2="1039.5" y1="517" y2="518"/>
<line x1="1039.5" x2="1039.5" y1="685" y2="686"/>
<line x1="1055.5" x2="1055.5" y1="505" y2="506"/>
<line x1="1055.5" x2="1055.5" y1="517" y2="518"/>
<line x1="1055.5" x2="1055.5" y1="685" y2="686"/>
<line x1="1071.5" x2="1071.5" y1="505" y2="506"/>
<line x1="1071.5" x2="1071.5" y1="517" y2="518"/>
<line x1="1071.5" x2="1071.5" y1="685" y2="686"/>
<line x1="1087.5" x2="1087.5" y1="505" y2="507"/>
<line x1="1087.5" x2="1087.5" y1="516" y2="518"/>
<line x1="1087.5" x2="1087.5" y1="685" y2="687"/>
<line x1="1102.5" x2="1102.5" y1="505" y2="506"/>
<line x1="1102.5" x2="1102.5" y1="517" y2="518"/>
<line x1="1102.5" x2="1102.5" y1="685" y2="686"/>
<line x1="1118.5" x2="1118.5" y1="505" y2="506"/>
<line x1="1118.5" x2="1118.5" y1="517" y2="518"/>
<line x1="1118.5" x2="1118.5" y1="685" y2="686"/>
<line x1="1134.5" x2="1134.5" y1="505" y2="506"/>
<line x1="1134.5" x2="1134.5" y1="517" y2="518"/>
<line x1="1134.5" x2="1134.5" y1="685" y2="686"/>
<line x1="1150.5" x2="1150.5" y1="505" y2="507"/>
<line x1="1150.5" x2="1150.5" y1="516" y2="518"/>
<line x1="1150.5" x2="1150.5" y1="685" y2="687"/>
<line x1="1166.5" x2="1166.5" y1="505" y2="506"/>
<line x1="1166.5" x2="1166.5" y1="517" y2="518"/>
<line x1="1166.5" x2="1166.5" y1="685" y2="686"/>
<line x1="1182.5" x2="1182.5" y1="505" y2="506"/>
<line x1="1182.5" x2="1182.5" y1="517" y2="518"/>
<line x1="1182.5" x2="1182.5" y1="685" y2="686"/>
<line x1="1198.5" x2="1198.5" y1="505" y2="506"/>
<line x1="1198.5" x2="1198.5" y1="517" y2="518"/>
<line x1="1198.5" x2="1198.5" y1="685" y2="686"/>
<line x1="1213.5" x2="1213.5" y1="505" y2="507"/>
<line x1="1213.5" x2="1213.5" y1="516" y2="518"/>
<line x1="1213.5" x2="1213.5" y1="685" y2="687"/>
<line x1="1229.5" x2="1229.5" y1="505" y2="506"/>
<line x1="1229.5" x2="1229.5" y1="517" y2="518"/>
<line x1="1229.5" x2="1229.5" y1="685" y2="686"/>
<line x1="1245.5" x2="1245.5" y1="505" y2="506"/>
<line x1="1245.5" x2="1245.5" y1="517" y2="518"/>
<line x1="1245.5" x2="1245.5" y1="685" y2="686"/>
<line x1="1261.5" x2="1261.5" y1="505" y2="506"/>
<line x1="1261.5" x2="1261.5" y1="517" y2="518"/>
<line x1="1261.5" x2="1261.5" y1="685" y2="686"/>
<line x1="1277.5" x2="1277.5" y1="505" y2="506"/>
<line x1="1277.5" x2="1277.5" y1="517" y2="518"/>
<line x1="1277.5" x2="1277.5" y1="685" y2="686"/>
<line x1="1293.5" x2="1293.5" y1="505" y2="507"/>
<line x1="1293.5" x2="1293.5" y1="516" y2="518"/>
<line x1="1293.5" x2="1293.5" y1="685" y2="687"/>
<line x1="1309.5" x2="1309.5" y1="505" y2="506"/>
<line x1="1309.5" x2="1309.5" y1="517" y2="518"/>
<line x1="1309.5" x2="1309.5" y1="685" y2="686"/>
<line x1="1324.5" x2="1324.5" y1="505" y2="506"/>
<line x1="1324.5" x2="1324.5" y1="517" y2="518"/>
<line x1="1324.5" x2="1324.5" y1="685" y2="686"/>
<line x1="1340.5" x2="1340.5" y1="505" y2="506"/>
<line x1="1340.5" x2="1340.5" y1="517" y2="518"/>
<line x1="1340.5" x2="1340.5" y1="685" y2="686"/>
<line x1="1356.5" x2="1356.5" y1="505" y2="507"/>
<line x1="1356.5" x2="1356.5" y1="516" y2="518"/>
<line x1="1356.5" x2="1356.5" y1="685" y2="687"/>
<line x1="1372.5" x2="1372.5" y1="505" y2="506"/>
<line x1="1372.5" x2="1372.5" y1="517" y2="518"/>
<line x1="1372.5" x2="1372.5" y1="685" y2="686"/>
<line x1="1388.5" x2="1388.5" y1="505" y2="506"/>
<line x1="1388.5" x2="1388.5" y1="517" y2="518"/>
<line x1="1388.5" x2="1388.5" y1="685" y2="686"/>
<line x1="1404.5" x2="1404.5" y1="505" y2="506"/>
<line x1="1404.5" x2="1404.5" y1="517" y2="518"/>
<line x1="1404.5" x2="1404.5" y1="685" y2="686"/>
<line x1="1420.5" x2="1420.5" y1="505" y2="507"/>
<line x1="1420.5" x2="1420.5" y1="516" y2="518"/>
<line x1="1420.5" x2="1420.5" y1="685" y2="687"/>
<line x1="1436.5" x2="1436.5" y1="505" y2="506"/>
<line x1="1436.5" x2="1436.5" y1="517" y2="518"/>
<line x1="1436.5" x2="1436.5" y1="685" y2="686"/>
<line x1="1451.5" x2="1451.5" y1="505" y2="506"/>
<line x1="1451.5" x2="1451.5" y1="517" y2="518"/>
<line x1="1451.5" x2="1451.5" y1="685" y2="686"/>
<line x1="1467.5" x2="1467.5" y1="505" y2="506"/>
<line x1="1467.5" x2="1467.5" y1="517" y2="518"/>
<line x1="1467.5" x2="1467.5" y1="685" y2="686"/>
<line x1="1483.5" x2="1483.5" y1="505" y2="506"/>
<line x1="1483.5" x2="1483.5" y1="517" y2="518"/>
<line x1="1483.5" x2="1483.5" y1="685" y2="686"/>
<line x1="1499.5" x2="1499.5" y1="505" y2="507"/>
<line x1="1499.5" x2="1499.5" y1="516" y2="518"/>
<line x1="1499.5" x2="1499.5" y1="685" y2="687"/>
<line x1="1515.5" x2="1515.5" y1="505" y2="506"/>
<line x1="1515.5" x2="1515.5" y1="517" y2="518"/>
<line x1="1515.5" x2="1515.5" y1="685" y2="686"/>
<line x1="1531.5" x2="1531.5" y1="505" y2="506"/>
<line x1="1531.5" x2="1531.5" y1="517" y2="518"/>
<line x1="1531.5" x2="1531.5" y1="685" y2="686"/>
<line x1="1547.5" x2="1547.5" y1="505" y2="506"/>
<line x1="1547.5" x2="1547.5" y1="517" y2="518"/>
<line x1="1547.5" x2="1547.5" y1="685" y2="686"/>
<line x1="1557" x2="1559" y1="495.5" y2="495.5"/>
<line x1="1557" x2="1559" y1="476.5" y2="476.5"/>
<line x1="1557" x2="1559" y1="456.5" y2="456.5"/>
<line x1="1557" x2="1559" y1="437.5" y2="437.5"/>
<line x1="1557" x2="1559" y1="418.5" y2="418.5"/>
<line x1="1557" x2="1559" y1="400.5" y2="400.5"/>
<line x1="1557" x2="1559" y1="381.5" y2="381.5"/>
<line x1="1557" x2="1559" y1="363.5" y2="363.5"/>
<line x1="1557" x2="1559" y1="345.5" y2="345.5"/>
<line x1="1557" x2="1559" y1="327.5" y2="327.5"/>
<line x1="1557" x2="1559" y1="309.5" y2="309.5"/>
<line x1="1557" x2="1559" y1="292.5" y2="292.5"/>
<line x1="1557" x2="1559" y1="274.5" y2="274.5"/>
<line x1="1557" x2="1559" y1="257.5" y2="257.5"/>
<line x1="1557" x2="1559" y1="240.5" y2="240.5"/>
<line x1="1557" x2="1559" y1="223.5" y2="223.5"/>
<line x1="1557" x2="1559" y1="206.5" y2="206.5"/>
<line x1="1557" x2="1559" y1="190.5" y2="190.5"/>
<line x1="1557" x2="1559" y1="173.5" y2="173.5"/>
<line x1="1557" x2="1559" y1="157.5" y2="157.5"/>
<line x1="1557" x2="1559" y1="141.5" y2="141.5"/>
<line x1="1557" x2="1559" y1="124.5" y2="124.5"/>
<line x1="1557" x2="1559" y1="109.5" y2="109.5"/>
<line x1="1557" x2="1559" y1="93.5" y2="93.5"/>
<line x1="1557" x2="1559" y1="77.5" y2="77.5"/>
<line x1="1557" x2="1559" y1="62.5" y2="62.5"/>
<line x1="1557" x2="1559" y1="46.5" y2="46.5"/>
<line x1="1557" x2="1559" y1="31.5" y2="31.5"/>
<line x1="1557" x2="1559" y1="662.5" y2="662.5"/>
<line x1="1557" x2="1559" y1="632.5" y2="632.5"/>
<line x1="1557" x2="1559" y1="602.5" y2="602.5"/>
<line x1="1557" x2="1559" y1="571.5" y2="571.5"/>
<line x1="1557" x2="1559" y1="541.5" y2="541.5"/>
</g>
<text x="1560.00" y="498.00" font-size="9.6" font-weight="normal" fill="#000" textLength="23.0" lengthAdjust="spacing" stroke="#000" stroke-width="0.22" >2350</text>
<text x="1560.00" y="479.00" font-size="9.6" font-weight="normal" fill="#000" textLength="23.0" lengthAdjust="spacing" stroke="#000" stroke-width="0.22" >2375</text>
<text x="1560.00" y="459.00" font-size="9.6" font-weight="normal" fill="#000" textLength="23.0" lengthAdjust="spacing" stroke="#000" stroke-width="0.22" >2400</text>
<text x="1560.00" y="440.00" font-size="9.6" font-weight="normal" fill="#000" textLength="23.0" lengthAdjust="spacing" stroke="#000" stroke-width="0.22" >2425</text>
<text x="1560.00" y="421.00" font-size="9.6" font-weight="normal" fill="#000" textLength="23.0" lengthAdjust="spacing" stroke="#000" stroke-width="0.22" >2450</text>
<text x="1560.00" y="403.00" font-size="9.6" font-weight="normal" fill="#000" textLength="23.0" lengthAdjust="spacing" stroke="#000" stroke-width="0.22" >2475</text>
<text x="1560.00" y="384.00" font-size="9.6" font-weight="normal" fill="#000" textLength="23.0" lengthAdjust="spacing" stroke="#000" stroke-width="0.22" >2500</text>
<text x="1560.00" y="366.00" font-size="9.6" font-weight="normal" fill="#000" textLength="23.0" lengthAdjust="spacing" stroke="#000" stroke-width="0.22" >2525</text>
<text x="1560.00" y="348.00" font-size="9.6" font-weight="normal" fill="#000" textLength="23.0" lengthAdjust="spacing" stroke="#000" stroke-width="0.22" >2550</text>
<text x="1560.00" y="330.00" font-size="9.6" font-weight="normal" fill="#000" textLength="23.0" lengthAdjust="spacing" stroke="#000" stroke-width="0.22" >2575</text>
<text x="1560.00" y="312.00" font-size="9.6" font-weight="normal" fill="#000" textLength="23.0" lengthAdjust="spacing" stroke="#000" stroke-width="0.22" >2600</text>
<text x="1560.00" y="295.00" font-size="9.6" font-weight="normal" fill="#000" textLength="23.0" lengthAdjust="spacing" stroke="#000" stroke-width="0.22" >2625</text>
<text x="1560.00" y="277.00" font-size="9.6" font-weight="normal" fill="#000" textLength="23.0" lengthAdjust="spacing" stroke="#000" stroke-width="0.22" >2650</text>
<text x="1560.00" y="260.00" font-size="9.6" font-weight="normal" fill="#000" textLength="23.0" lengthAdjust="spacing" stroke="#000" stroke-width="0.22" >2675</text>
<text x="1560.00" y="243.00" font-size="9.6" font-weight="normal" fill="#000" textLength="23.0" lengthAdjust="spacing" stroke="#000" stroke-width="0.22" >2700</text>
<text x="1560.00" y="226.00" font-size="9.6" font-weight="normal" fill="#000" textLength="23.0" lengthAdjust="spacing" stroke="#000" stroke-width="0.22" >2725</text>
<text x="1560.00" y="209.00" font-size="9.6" font-weight="normal" fill="#000" textLength="23.0" lengthAdjust="spacing" stroke="#000" stroke-width="0.22" >2750</text>
<text x="1560.00" y="193.00" font-size="9.6" font-weight="normal" fill="#000" textLength="23.0" lengthAdjust="spacing" stroke="#000" stroke-width="0.22" >2775</text>
<text x="1560.00" y="176.00" font-size="9.6" font-weight="normal" fill="#000" textLength="23.0" lengthAdjust="spacing" stroke="#000" stroke-width="0.22" >2800</text>
<text x="1560.00" y="160.00" font-size="9.6" font-weight="normal" fill="#000" textLength="23.0" lengthAdjust="spacing" stroke="#000" stroke-width="0.22" >2825</text>
<text x="1560.00" y="144.00" font-size="9.6" font-weight="normal" fill="#000" textLength="23.0" lengthAdjust="spacing" stroke="#000" stroke-width="0.22" >2850</text>
<text x="1560.00" y="127.00" font-size="9.6" font-weight="normal" fill="#000" textLength="23.0" lengthAdjust="spacing" stroke="#000" stroke-width="0.22" >2875</text>
<text x="1560.00" y="112.00" font-size="9.6" font-weight="normal" fill="#000" textLength="23.0" lengthAdjust="spacing" stroke="#000" stroke-width="0.22" >2900</text>
<text x="1560.00" y="96.00" font-size="9.6" font-weight="normal" fill="#000" textLength="23.0" lengthAdjust="spacing" stroke="#000" stroke-width="0.22" >2925</text>
<text x="1560.00" y="80.00" font-size="9.6" font-weight="normal" fill="#000" textLength="23.0" lengthAdjust="spacing" stroke="#000" stroke-width="0.22" >2950</text>
<text x="1560.00" y="65.00" font-size="9.6" font-weight="normal" fill="#000" textLength="23.0" lengthAdjust="spacing" stroke="#000" stroke-width="0.22" >2975</text>
<text x="1560.00" y="49.00" font-size="9.6" font-weight="normal" fill="#000" textLength="23.0" lengthAdjust="spacing" stroke="#000" stroke-width="0.22" >3000</text>
<text x="1560.00" y="34.00" font-size="9.6" font-weight="normal" fill="#000" textLength="23.0" lengthAdjust="spacing" stroke="#000" stroke-width="0.22" >3025</text>
<text x="1560.00" y="665.00" font-size="9.6" font-weight="normal" fill="#000" textLength="11.5" lengthAdjust="spacing" stroke="#000" stroke-width="0.22" >10</text>
<text x="1560.00" y="635.00" font-size="9.6" font-weight="normal" fill="#000" textLength="11.5" lengthAdjust="spacing" stroke="#000" stroke-width="0.22" >30</text>
<text x="1560.00" y="605.00" font-size="9.6" font-weight="normal" fill="#000" textLength="11.5" lengthAdjust="spacing" stroke="#000" stroke-width="0.22" >50</text>
<text x="1560.00" y="574.00" font-size="9.6" font-weight="normal" fill="#000" textLength="11.5" lengthAdjust="spacing" stroke="#000" stroke-width="0.22" >70</text>
<text x="1560.00" y="544.00" font-size="9.6" font-weight="normal" fill="#000" textLength="11.5" lengthAdjust="spacing" stroke="#000" stroke-width="0.22" >90</text>
<polygon points="1554.5,56.0 1558.5,50.5 1600.0,50.5 1600.0,61.5 1558.5,61.5" fill="#fff" stroke="#000" stroke-width="1"/><text x="1559.20" y="60.00" font-size="11" font-weight="bold" fill="#000" textLength="38.2" lengthAdjust="spacing" stroke="#000" stroke-width="0.22" >2984.46</text>
<polygon points="1554.5,95.5 1558.5,90.5 1600.0,90.5 1600.0,100.5 1558.5,100.5" fill="#fff" stroke="#10108C" stroke-width="1"/><text x="1559.20" y="99.00" font-size="10" font-weight="normal" fill="#000" textLength="37.9" lengthAdjust="spacing" stroke="#000" stroke-width="0.22" >2919.59</text>
<polygon points="1554.5,170.5 1558.5,165.5 1600.0,165.5 1600.0,175.5 1558.5,175.5" fill="#fff" stroke="#D00030" stroke-width="1"/><text x="1559.20" y="174.00" font-size="10" font-weight="normal" fill="#000" textLength="37.9" lengthAdjust="spacing" stroke="#000" stroke-width="0.22" >2802.81</text>
<polygon points="1554.5,581.5 1558.5,576.5 1587.5,576.5 1587.5,586.5 1558.5,586.5" fill="#fff" stroke="#002070" stroke-width="1"/><text x="1559.20" y="585.00" font-size="10" font-weight="normal" fill="#000" textLength="26.0" lengthAdjust="spacing" stroke="#000" stroke-width="0.22" >62.79</text>
<text x="55.50" y="515.00" font-size="9.8" font-weight="normal" fill="#000" text-anchor="middle" stroke="#000" stroke-width="0.22" >Nov</text>
<text x="55.50" y="695.00" font-size="9.8" font-weight="normal" fill="#000" text-anchor="middle" stroke="#000" stroke-width="0.22" >Nov</text>
<text x="119.50" y="515.00" font-size="9.8" font-weight="normal" fill="#000" text-anchor="middle" stroke="#000" stroke-width="0.22" >Dec</text>
<text x="119.50" y="695.00" font-size="9.8" font-weight="normal" fill="#000" text-anchor="middle" stroke="#000" stroke-width="0.22" >Dec</text>
<text x="182.50" y="515.00" font-size="10" font-weight="bold" fill="#000" textLength="23.4" lengthAdjust="spacing" text-anchor="middle" stroke="#000" stroke-width="0.22" >2018</text>
<text x="182.50" y="695.00" font-size="10" font-weight="bold" fill="#000" textLength="23.4" lengthAdjust="spacing" text-anchor="middle" stroke="#000" stroke-width="0.22" >2018</text>
<text x="262.50" y="515.00" font-size="9.8" font-weight="normal" fill="#000" text-anchor="middle" stroke="#000" stroke-width="0.22" >Feb</text>
<text x="262.50" y="695.00" font-size="9.8" font-weight="normal" fill="#000" text-anchor="middle" stroke="#000" stroke-width="0.22" >Feb</text>
<text x="325.50" y="515.00" font-size="9.8" font-weight="normal" fill="#000" textLength="17.5" lengthAdjust="spacing" text-anchor="middle" stroke="#000" stroke-width="0.22" >Mar</text>
<text x="325.50" y="695.00" font-size="9.8" font-weight="normal" fill="#000" textLength="17.5" lengthAdjust="spacing" text-anchor="middle" stroke="#000" stroke-width="0.22" >Mar</text>
<text x="389.50" y="515.00" font-size="9.8" font-weight="normal" fill="#000" text-anchor="middle" stroke="#000" stroke-width="0.22" >Apr</text>
<text x="389.50" y="695.00" font-size="9.8" font-weight="normal" fill="#000" text-anchor="middle" stroke="#000" stroke-width="0.22" >Apr</text>
<text x="468.50" y="515.00" font-size="9.8" font-weight="normal" fill="#000" text-anchor="middle" stroke="#000" stroke-width="0.22" >May</text>
<text x="468.50" y="695.00" font-size="9.8" font-weight="normal" fill="#000" text-anchor="middle" stroke="#000" stroke-width="0.22" >May</text>
<text x="531.50" y="515.00" font-size="9.8" font-weight="normal" fill="#000" text-anchor="middle" stroke="#000" stroke-width="0.22" >Jun</text>
<text x="531.50" y="695.00" font-size="9.8" font-weight="normal" fill="#000" text-anchor="middle" stroke="#000" stroke-width="0.22" >Jun</text>
<text x="595.50" y="515.00" font-size="9.8" font-weight="normal" fill="#000" text-anchor="middle" stroke="#000" stroke-width="0.22" >Jul</text>
<text x="595.50" y="695.00" font-size="9.8" font-weight="normal" fill="#000" text-anchor="middle" stroke="#000" stroke-width="0.22" >Jul</text>
<text x="674.50" y="515.00" font-size="9.8" font-weight="normal" fill="#000" text-anchor="middle" stroke="#000" stroke-width="0.22" >Aug</text>
<text x="674.50" y="695.00" font-size="9.8" font-weight="normal" fill="#000" text-anchor="middle" stroke="#000" stroke-width="0.22" >Aug</text>
<text x="738.50" y="515.00" font-size="9.8" font-weight="normal" fill="#000" text-anchor="middle" stroke="#000" stroke-width="0.22" >Sep</text>
<text x="738.50" y="695.00" font-size="9.8" font-weight="normal" fill="#000" text-anchor="middle" stroke="#000" stroke-width="0.22" >Sep</text>
<text x="801.50" y="515.00" font-size="9.8" font-weight="normal" fill="#000" textLength="16.4" lengthAdjust="spacing" text-anchor="middle" stroke="#000" stroke-width="0.22" >Oct</text>
<text x="801.50" y="695.00" font-size="9.8" font-weight="normal" fill="#000" textLength="16.4" lengthAdjust="spacing" text-anchor="middle" stroke="#000" stroke-width="0.22" >Oct</text>
<text x="880.50" y="515.00" font-size="9.8" font-weight="normal" fill="#000" text-anchor="middle" stroke="#000" stroke-width="0.22" >Nov</text>
<text x="880.50" y="695.00" font-size="9.8" font-weight="normal" fill="#000" text-anchor="middle" stroke="#000" stroke-width="0.22" >Nov</text>
<text x="944.50" y="515.00" font-size="9.8" font-weight="normal" fill="#000" text-anchor="middle" stroke="#000" stroke-width="0.22" >Dec</text>
<text x="944.50" y="695.00" font-size="9.8" font-weight="normal" fill="#000" text-anchor="middle" stroke="#000" stroke-width="0.22" >Dec</text>
<text x="1023.50" y="515.00" font-size="10" font-weight="bold" fill="#000" textLength="23.4" lengthAdjust="spacing" text-anchor="middle" stroke="#000" stroke-width="0.22" >2019</text>
<text x="1023.50" y="695.00" font-size="10" font-weight="bold" fill="#000" textLength="23.4" lengthAdjust="spacing" text-anchor="middle" stroke="#000" stroke-width="0.22" >2019</text>
<text x="1087.50" y="515.00" font-size="9.8" font-weight="normal" fill="#000" text-anchor="middle" stroke="#000" stroke-width="0.22" >Feb</text>
<text x="1087.50" y="695.00" font-size="9.8" font-weight="normal" fill="#000" text-anchor="middle" stroke="#000" stroke-width="0.22" >Feb</text>
<text x="1150.50" y="515.00" font-size="9.8" font-weight="normal" fill="#000" textLength="17.5" lengthAdjust="spacing" text-anchor="middle" stroke="#000" stroke-width="0.22" >Mar</text>
<text x="1150.50" y="695.00" font-size="9.8" font-weight="normal" fill="#000" textLength="17.5" lengthAdjust="spacing" text-anchor="middle" stroke="#000" stroke-width="0.22" >Mar</text>
<text x="1213.50" y="515.00" font-size="9.8" font-weight="normal" fill="#000" text-anchor="middle" stroke="#000" stroke-width="0.22" >Apr</text>
<text x="1213.50" y="695.00" font-size="9.8" font-weight="normal" fill="#000" text-anchor="middle" stroke="#000" stroke-width="0.22" >Apr</text>
<text x="1293.50" y="515.00" font-size="9.8" font-weight="normal" fill="#000" text-anchor="middle" stroke="#000" stroke-width="0.22" >May</text>
<text x="1293.50" y="695.00" font-size="9.8" font-weight="normal" fill="#000" text-anchor="middle" stroke="#000" stroke-width="0.22" >May</text>
<text x="1356.50" y="515.00" font-size="9.8" font-weight="normal" fill="#000" text-anchor="middle" stroke="#000" stroke-width="0.22" >Jun</text>
<text x="1356.50" y="695.00" font-size="9.8" font-weight="normal" fill="#000" text-anchor="middle" stroke="#000" stroke-width="0.22" >Jun</text>
<text x="1420.50" y="515.00" font-size="9.8" font-weight="normal" fill="#000" text-anchor="middle" stroke="#000" stroke-width="0.22" >Jul</text>
<text x="1420.50" y="695.00" font-size="9.8" font-weight="normal" fill="#000" text-anchor="middle" stroke="#000" stroke-width="0.22" >Jul</text>
<text x="1499.50" y="515.00" font-size="9.8" font-weight="normal" fill="#000" text-anchor="middle" stroke="#000" stroke-width="0.22" >Aug</text>
<text x="1499.50" y="695.00" font-size="9.8" font-weight="normal" fill="#000" text-anchor="middle" stroke="#000" stroke-width="0.22" >Aug</text>
<text x="16.60" y="13.50" font-size="13" font-weight="bold" fill="#000" textLength="32.6" lengthAdjust="spacing" stroke="#000" stroke-width="0.22" >$SPX</text>
<text x="53.60" y="12.90" font-size="10.5" font-weight="normal" fill="#000" textLength="122.0" lengthAdjust="spacing" stroke="#000" stroke-width="0.22" >S&amp;P 500 Large Cap Index</text>
<text x="181.40" y="12.90" font-size="9" font-weight="normal" fill="#000" textLength="23.4" lengthAdjust="spacing" stroke="#000" stroke-width="0.22" >INDX</text>
<text x="16.00" y="25.80" font-size="10" font-weight="normal" fill="#000" textLength="94.0" lengthAdjust="spacing" stroke="#000" stroke-width="0.22" >22-Jul-2019 3:57pm</text>
<text x="1156.00" y="25.90" font-size="10.7" font-weight="bold" fill="#000" textLength="27.8" lengthAdjust="spacing" stroke="#000" stroke-width="0.22" >Open</text>
<text x="1187.70" y="25.90" font-size="10" font-weight="normal" fill="#000" textLength="38.5" lengthAdjust="spacing" stroke="#000" stroke-width="0.22" >2981.93</text>
<text x="1232.70" y="25.90" font-size="10.7" font-weight="bold" fill="#000" textLength="23.3" lengthAdjust="spacing" stroke="#000" stroke-width="0.22" >High</text>
<text x="1260.00" y="25.90" font-size="10" font-weight="normal" fill="#000" textLength="38.0" lengthAdjust="spacing" stroke="#000" stroke-width="0.22" >2990.71</text>
<text x="1304.50" y="25.90" font-size="10.7" font-weight="bold" fill="#000" textLength="23.5" lengthAdjust="spacing" stroke="#000" stroke-width="0.22" >Low</text>
<text x="1331.80" y="25.90" font-size="10" font-weight="normal" fill="#000" textLength="38.2" lengthAdjust="spacing" stroke="#000" stroke-width="0.22" >2976.65</text>
<text x="1376.90" y="25.90" font-size="10.7" font-weight="bold" fill="#000" textLength="23.0" lengthAdjust="spacing" stroke="#000" stroke-width="0.22" >Last</text>
<text x="1403.80" y="25.90" font-size="10" font-weight="normal" fill="#000" textLength="38.1" lengthAdjust="spacing" stroke="#000" stroke-width="0.22" >2984.46</text>
<text x="1449.00" y="25.90" font-size="10.7" font-weight="bold" fill="#000" textLength="20.9" lengthAdjust="spacing" stroke="#000" stroke-width="0.22" >Chg</text>
<text x="1474.20" y="25.90" font-size="10" font-weight="normal" fill="#000" textLength="71.8" lengthAdjust="spacing" stroke="#000" stroke-width="0.22" >+7.85 (+0.26%)</text>
<polygon points="1548.7,24.8 1556,24.8 1552.3,21.2" fill="#2E7D32"/>
<text x="1467.00" y="12.60" font-size="10.5" font-weight="normal" fill="#505050" textLength="89.0" lengthAdjust="spacing" stroke="#505050" stroke-width="0.22" >© StockCharts.com</text>
<g shape-rendering="crispEdges" fill="#000"><rect x="19" y="32" width="3" height="6"/><rect x="20" y="31" width="1" height="9"/><rect x="20" y="33" width="1" height="2" fill="#fff"/><rect x="22" y="35" width="3" height="3"/><rect x="23" y="35" width="1" height="4"/><rect x="25" y="32" width="3" height="6"/><rect x="26" y="31" width="1" height="8"/><rect x="26" y="33" width="1" height="4" fill="#fff"/></g>
<text x="31.90" y="39.00" font-size="10" font-weight="normal" fill="#000" textLength="131.2" lengthAdjust="spacing" stroke="#000" stroke-width="0.22" >$SPX (Weekly) 2984.46</text>
<rect x="19" y="45" width="9" height="2" fill="#000088" shape-rendering="crispEdges"/>
<text x="29.80" y="50.00" font-size="9.7" font-weight="normal" fill="#000088" textLength="68.8" lengthAdjust="spacing" stroke="#000088" stroke-width="0.22" >MA(10) 2919.59</text>
<rect x="19" y="56" width="9" height="2" fill="#D00030" shape-rendering="crispEdges"/>
<text x="29.80" y="61.00" font-size="9.7" font-weight="normal" fill="#D00030" textLength="68.8" lengthAdjust="spacing" stroke="#D00030" stroke-width="0.22" >MA(52) 2802.81</text>
<path d="M19.5,528.5 L19.5,526.5 L23.5,520.5 L25.5,526.5 L27.5,522.5 L27.5,528.5 Z" fill="#7FAEF8" stroke="none"/>
<path d="M19.5,529 L19.5,526.5 L23.5,520.5 L25.5,526.5 L27.5,522.5 L27.5,529" fill="none" stroke="#001A70" stroke-width="1"/>
<text x="32.00" y="529.00" font-size="10" font-weight="normal" fill="#000" textLength="71.2" lengthAdjust="spacing" stroke="#000" stroke-width="0.22" >RSI(9) 62.79</text>
<rect x="0.5" y="0.5" width="1599" height="699" fill="none" stroke="#000" stroke-width="1" shape-rendering="crispEdges"/>
</svg></body></html>
